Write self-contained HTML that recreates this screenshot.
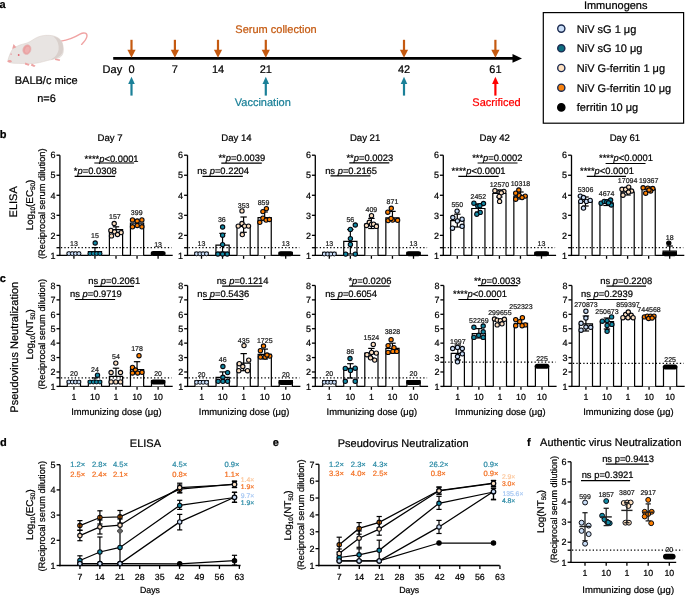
<!DOCTYPE html>
<html><head><meta charset="utf-8"><style>
html,body{margin:0;padding:0;background:#fff;width:685px;height:596px;overflow:hidden;}
svg{display:block;will-change:transform;}
text{font-family:"Liberation Sans", sans-serif;text-rendering:geometricPrecision;}
</style></head><body>
<svg width="685" height="596" viewBox="0 0 685 596" font-family='"Liberation Sans", sans-serif'>
<rect width="685" height="596" fill="#fff"/>
<text x="-0.50" y="8.40" font-size="11" font-weight="bold"  stroke="#000" stroke-width="0.22">a</text>
<g>
<path d="M61,41.2 C68,40.2 75,37.2 80,34.2 C84,32 87.6,33 86.9,36.6 C86.2,39.6 83.6,42.4 81.6,44.4" fill="none" stroke="#f0a3a3" stroke-width="1.35" stroke-linecap="round"/>
<path d="M7.8,60.7 C9,56 10.8,51.5 12.7,49.1 C15,47 19,45 22.6,44.2 C26,43.5 28.5,42.5 31,41 C36,37.5 40,35.7 45,35.4 C51,35 57,36 60.5,40 C63,43 63.8,48 63.2,52 C62.8,55 61,57 58.5,58 C55,59 51,59.5 47.5,60.5 C42,62 37,63.5 32,63.5 C26,63.5 19,63.5 14,63.3 C11,63.1 8.5,62.5 7.8,60.7 Z" fill="#e8e4e2" stroke="#d9ccc6" stroke-width="0.5"/>
<path d="M50.5,59.8 C55.5,58.8 60.5,57 62.5,52.5 C63.8,48 63.2,43.2 60.6,40.2 C58.5,38 56,37 53.5,36.4 C57.5,40 59.2,44.5 58.6,49.5 C58,53.8 55,57.5 50.5,59.8 Z" fill="#d9d0cc"/>
<path d="M25.3,62.4 L29.6,64.2 L28.6,65.7 L24.8,64.4 Z" fill="#eea3a3"/>
<path d="M31.8,63.4 L35.6,65.8 L34.1,67.1 L30.8,65.4 Z" fill="#eea3a3"/>
<path d="M55.2,58.4 L60.2,59.4 L59.6,60.9 L55,60.1 Z" fill="#eea3a3"/>
<ellipse cx="9.6" cy="61.2" rx="2" ry="1.25" fill="#eda2a2"/>
<path d="M12.2,48.9 L13.5,44.1 L16.3,47.2 Z" fill="#eba3a3"/>
<ellipse cx="26.9" cy="49.6" rx="4" ry="5" transform="rotate(20 26.9 49.6)" fill="#eaa2a2" stroke="#e4b9b9" stroke-width="0.6"/>
<ellipse cx="27.3" cy="49.8" rx="2.2" ry="3.2" transform="rotate(20 27.3 49.8)" fill="#eeb0b0"/>
<circle cx="18.7" cy="55" r="0.9" fill="#e2636f"/>
<circle cx="11.1" cy="54.1" r="0.7" fill="#e8808a"/>
</g>
<text x="46.20" y="83.80" font-size="11" text-anchor="middle"  stroke="#000" stroke-width="0.22">BALB/c mice</text>
<text x="46.50" y="102.20" font-size="11" text-anchor="middle"  stroke="#000" stroke-width="0.22">n=6</text>
<line x1="113.20" y1="58.40" x2="514.00" y2="58.40" stroke="#000" stroke-width="2.9"/>
<path d="M512.5,54 L522,58.4 L512.5,62.8 Z" fill="#000" stroke="none" stroke-width="1" />
<line x1="131.50" y1="39.80" x2="131.50" y2="50.50" stroke="#c55a11" stroke-width="2.2"/>
<path d="M127.40,49.8 L135.60,49.8 L131.50,57.8 Z" fill="#c55a11" stroke="none" stroke-width="1" />
<line x1="174.90" y1="39.80" x2="174.90" y2="50.50" stroke="#c55a11" stroke-width="2.2"/>
<path d="M170.80,49.8 L179.00,49.8 L174.90,57.8 Z" fill="#c55a11" stroke="none" stroke-width="1" />
<line x1="218.00" y1="39.80" x2="218.00" y2="50.50" stroke="#c55a11" stroke-width="2.2"/>
<path d="M213.90,49.8 L222.10,49.8 L218.00,57.8 Z" fill="#c55a11" stroke="none" stroke-width="1" />
<line x1="265.80" y1="39.80" x2="265.80" y2="50.50" stroke="#c55a11" stroke-width="2.2"/>
<path d="M261.70,49.8 L269.90,49.8 L265.80,57.8 Z" fill="#c55a11" stroke="none" stroke-width="1" />
<line x1="404.00" y1="39.80" x2="404.00" y2="50.50" stroke="#c55a11" stroke-width="2.2"/>
<path d="M399.90,49.8 L408.10,49.8 L404.00,57.8 Z" fill="#c55a11" stroke="none" stroke-width="1" />
<line x1="495.40" y1="39.80" x2="495.40" y2="50.50" stroke="#c55a11" stroke-width="2.2"/>
<path d="M491.30,49.8 L499.50,49.8 L495.40,57.8 Z" fill="#c55a11" stroke="none" stroke-width="1" />
<path d="M128.20,84 L134.80,84 L131.50,76.8 Z" fill="#1b8098" stroke="none" stroke-width="1" />
<line x1="131.50" y1="83.50" x2="131.50" y2="95.60" stroke="#1b8098" stroke-width="2.2"/>
<path d="M262.50,84 L269.10,84 L265.80,76.8 Z" fill="#1b8098" stroke="none" stroke-width="1" />
<line x1="265.80" y1="83.50" x2="265.80" y2="95.60" stroke="#1b8098" stroke-width="2.2"/>
<path d="M400.70,84 L407.30,84 L404.00,76.8 Z" fill="#1b8098" stroke="none" stroke-width="1" />
<line x1="404.00" y1="83.50" x2="404.00" y2="95.60" stroke="#1b8098" stroke-width="2.2"/>
<path d="M492.10,84 L498.70,84 L495.40,76.8 Z" fill="#fe0000" stroke="none" stroke-width="1" />
<line x1="495.40" y1="83.50" x2="495.40" y2="95.60" stroke="#fe0000" stroke-width="2.2"/>
<text x="102.60" y="72.50" font-size="11"  stroke="#000" stroke-width="0.22">Day</text>
<text x="131.50" y="72.80" font-size="11" text-anchor="middle"  stroke="#000" stroke-width="0.22">0</text>
<text x="174.90" y="72.80" font-size="11" text-anchor="middle"  stroke="#000" stroke-width="0.22">7</text>
<text x="218.00" y="72.80" font-size="11" text-anchor="middle"  stroke="#000" stroke-width="0.22">14</text>
<text x="265.80" y="72.80" font-size="11" text-anchor="middle"  stroke="#000" stroke-width="0.22">21</text>
<text x="404.00" y="72.80" font-size="11" text-anchor="middle"  stroke="#000" stroke-width="0.22">42</text>
<text x="495.40" y="72.80" font-size="11" text-anchor="middle"  stroke="#000" stroke-width="0.22">61</text>
<text x="276.00" y="32.80" font-size="11" text-anchor="middle" fill="#c55a11"  stroke="#c55a11" stroke-width="0.22">Serum collection</text>
<text x="262.80" y="105.80" font-size="11" text-anchor="middle" fill="#1b8098"  stroke="#1b8098" stroke-width="0.22">Vaccination</text>
<text x="496.50" y="105.60" font-size="11" text-anchor="middle" fill="#fe0000"  stroke="#fe0000" stroke-width="0.22">Sacrificed</text>
<text x="615.70" y="8.60" font-size="11" text-anchor="middle"  stroke="#000" stroke-width="0.22">Immunogens</text>
<rect x="543.3" y="12.6" width="140.3" height="110.6" fill="none" stroke="#000" stroke-width="1.2"/>
<circle cx="561.30" cy="28.60" r="3.6" fill="#c9ddf6" stroke="#1b2a50" stroke-width="1.4"/>
<text x="576.80" y="32.50" font-size="11"  stroke="#000" stroke-width="0.22">NiV sG 1 μg</text>
<circle cx="561.30" cy="48.30" r="3.6" fill="#0f6e80" stroke="#1b2a50" stroke-width="1.4"/>
<text x="576.80" y="52.20" font-size="11"  stroke="#000" stroke-width="0.22">NiV sG 10 μg</text>
<circle cx="561.30" cy="68.00" r="3.6" fill="#fde0c0" stroke="#1b2a50" stroke-width="1.4"/>
<text x="576.80" y="71.90" font-size="11"  stroke="#000" stroke-width="0.22">NiV G-ferritin 1 μg</text>
<circle cx="561.30" cy="87.70" r="3.6" fill="#f7820f" stroke="#1b2a50" stroke-width="1.4"/>
<text x="576.80" y="91.60" font-size="11"  stroke="#000" stroke-width="0.22">NiV G-ferritin 10 μg</text>
<circle cx="561.30" cy="107.40" r="3.6" fill="#000" stroke="#000" stroke-width="1.4"/>
<text x="576.80" y="111.30" font-size="11"  stroke="#000" stroke-width="0.22">ferritin 10 μg</text>
<text x="-0.30" y="138.20" font-size="11" font-weight="bold"  stroke="#000" stroke-width="0.22">b</text>
<text x="16.80" y="201.80" font-size="11" text-anchor="middle" transform="rotate(-90 16.80 201.80)"  stroke="#000" stroke-width="0.22">ELISA</text>
<text x="32.6" y="205" font-size="9.8" text-anchor="middle" transform="rotate(-90 32.6 205)" stroke="#000" stroke-width="0.22">Log<tspan font-size="6.4" dy="2.2">10</tspan><tspan dy="-2.2">(EC</tspan><tspan font-size="6.4" dy="2.2">50</tspan><tspan dy="-2.2">)</tspan></text>
<text x="45.00" y="203.70" font-size="9.3" text-anchor="middle" transform="rotate(-90 45.00 203.70)"  stroke="#000" stroke-width="0.22">(Reciprocal serum dilution)</text>
<text x="110.00" y="140.80" font-size="9.6" text-anchor="middle"  stroke="#000" stroke-width="0.22">Day 7</text>
<text x="236.50" y="140.80" font-size="9.6" text-anchor="middle"  stroke="#000" stroke-width="0.22">Day 14</text>
<text x="365.10" y="140.80" font-size="9.6" text-anchor="middle"  stroke="#000" stroke-width="0.22">Day 21</text>
<text x="494.70" y="140.80" font-size="9.6" text-anchor="middle"  stroke="#000" stroke-width="0.22">Day 42</text>
<text x="624.90" y="140.80" font-size="9.6" text-anchor="middle"  stroke="#000" stroke-width="0.22">Day 61</text>
<line x1="59.90" y1="155.20" x2="59.90" y2="256.05" stroke="#000" stroke-width="1.3"/>
<line x1="59.25" y1="255.40" x2="172.70" y2="255.40" stroke="#000" stroke-width="1.3"/>
<line x1="56.50" y1="255.40" x2="59.90" y2="255.40" stroke="#000" stroke-width="1.3"/>
<line x1="56.50" y1="235.36" x2="59.90" y2="235.36" stroke="#000" stroke-width="1.3"/>
<line x1="56.50" y1="215.32" x2="59.90" y2="215.32" stroke="#000" stroke-width="1.3"/>
<line x1="56.50" y1="195.28" x2="59.90" y2="195.28" stroke="#000" stroke-width="1.3"/>
<line x1="56.50" y1="175.24" x2="59.90" y2="175.24" stroke="#000" stroke-width="1.3"/>
<line x1="56.50" y1="155.20" x2="59.90" y2="155.20" stroke="#000" stroke-width="1.3"/>
<line x1="56.50" y1="247.70" x2="59.90" y2="247.70" stroke="#000" stroke-width="1.3"/>
<text x="55.50" y="258.64" font-size="9.0" text-anchor="end"  stroke="#000" stroke-width="0.22">1</text>
<text x="55.50" y="238.60" font-size="9.0" text-anchor="end"  stroke="#000" stroke-width="0.22">2</text>
<text x="55.50" y="218.56" font-size="9.0" text-anchor="end"  stroke="#000" stroke-width="0.22">3</text>
<text x="55.50" y="198.52" font-size="9.0" text-anchor="end"  stroke="#000" stroke-width="0.22">4</text>
<text x="55.50" y="178.48" font-size="9.0" text-anchor="end"  stroke="#000" stroke-width="0.22">5</text>
<text x="55.50" y="158.44" font-size="9.0" text-anchor="end"  stroke="#000" stroke-width="0.22">6</text>
<line x1="73.90" y1="255.40" x2="73.90" y2="258.80" stroke="#000" stroke-width="1.3"/>
<line x1="94.95" y1="255.40" x2="94.95" y2="258.80" stroke="#000" stroke-width="1.3"/>
<line x1="116.00" y1="255.40" x2="116.00" y2="258.80" stroke="#000" stroke-width="1.3"/>
<line x1="137.05" y1="255.40" x2="137.05" y2="258.80" stroke="#000" stroke-width="1.3"/>
<line x1="158.10" y1="255.40" x2="158.10" y2="258.80" stroke="#000" stroke-width="1.3"/>
<path d="M67.30,255.40 L67.30,252.30 L80.50,252.30 L80.50,255.40" fill="#fff" stroke="#000" stroke-width="1.2"/>
<path d="M88.35,255.40 L88.35,251.50 L101.55,251.50 L101.55,255.40" fill="#fff" stroke="#000" stroke-width="1.2"/>
<path d="M109.40,255.40 L109.40,229.60 L122.60,229.60 L122.60,255.40" fill="#fff" stroke="#000" stroke-width="1.2"/>
<path d="M130.45,255.40 L130.45,223.20 L143.65,223.20 L143.65,255.40" fill="#fff" stroke="#000" stroke-width="1.2"/>
<path d="M151.50,255.40 L151.50,252.30 L164.70,252.30 L164.70,255.40" fill="#fff" stroke="#000" stroke-width="1.2"/>
<line x1="60.90" y1="247.70" x2="171.70" y2="247.70" stroke="#000" stroke-width="1.3" stroke-dasharray="1.3 2.15"/>
<circle cx="68.90" cy="253.60" r="1.95" fill="#c9ddf6" stroke="#050810" stroke-width="0.95"/>
<circle cx="72.30" cy="253.60" r="1.95" fill="#c9ddf6" stroke="#050810" stroke-width="0.95"/>
<circle cx="75.50" cy="253.60" r="1.95" fill="#c9ddf6" stroke="#050810" stroke-width="0.95"/>
<circle cx="78.90" cy="253.60" r="1.95" fill="#c9ddf6" stroke="#050810" stroke-width="0.95"/>
<text x="73.90" y="246.40" font-size="7.0" text-anchor="middle" fill="#222"  stroke="#222" stroke-width="0.22">13</text>
<line x1="94.95" y1="251.50" x2="94.95" y2="247.60" stroke="#000" stroke-width="1.2"/>
<line x1="91.75" y1="247.60" x2="98.15" y2="247.60" stroke="#000" stroke-width="1.2"/>
<circle cx="95.20" cy="243.00" r="2.15" fill="#128aa4" stroke="#050810" stroke-width="1.1"/>
<circle cx="89.95" cy="253.60" r="1.95" fill="#128aa4" stroke="#050810" stroke-width="0.95"/>
<circle cx="93.35" cy="253.60" r="1.95" fill="#128aa4" stroke="#050810" stroke-width="0.95"/>
<circle cx="96.55" cy="253.60" r="1.95" fill="#128aa4" stroke="#050810" stroke-width="0.95"/>
<circle cx="99.95" cy="253.60" r="1.95" fill="#128aa4" stroke="#050810" stroke-width="0.95"/>
<text x="94.95" y="237.50" font-size="7.0" text-anchor="middle" fill="#222"  stroke="#222" stroke-width="0.22">15</text>
<line x1="116.00" y1="229.60" x2="116.00" y2="226.80" stroke="#000" stroke-width="1.2"/>
<line x1="112.80" y1="226.80" x2="119.20" y2="226.80" stroke="#000" stroke-width="1.2"/>
<line x1="116.00" y1="229.60" x2="116.00" y2="232.50" stroke="#000" stroke-width="1.2"/>
<line x1="112.80" y1="232.50" x2="119.20" y2="232.50" stroke="#000" stroke-width="1.2"/>
<circle cx="114.20" cy="223.50" r="2.15" fill="#fde0c0" stroke="#050810" stroke-width="1.1"/>
<circle cx="110.90" cy="230.40" r="2.15" fill="#fde0c0" stroke="#050810" stroke-width="1.1"/>
<circle cx="114.60" cy="231.80" r="2.15" fill="#fde0c0" stroke="#050810" stroke-width="1.1"/>
<circle cx="121.10" cy="232.60" r="2.15" fill="#fde0c0" stroke="#050810" stroke-width="1.1"/>
<circle cx="117.50" cy="234.50" r="2.15" fill="#fde0c0" stroke="#050810" stroke-width="1.1"/>
<circle cx="111.50" cy="235.90" r="2.15" fill="#fde0c0" stroke="#050810" stroke-width="1.1"/>
<text x="114.90" y="218.80" font-size="7.0" text-anchor="middle" fill="#222"  stroke="#222" stroke-width="0.22">157</text>
<circle cx="132.50" cy="219.90" r="2.15" fill="#ff8000" stroke="#050810" stroke-width="1.1"/>
<circle cx="137.20" cy="221.00" r="2.15" fill="#ff8000" stroke="#050810" stroke-width="1.1"/>
<circle cx="141.90" cy="219.90" r="2.15" fill="#ff8000" stroke="#050810" stroke-width="1.1"/>
<circle cx="132.50" cy="226.80" r="2.15" fill="#ff8000" stroke="#050810" stroke-width="1.1"/>
<circle cx="137.20" cy="225.50" r="2.15" fill="#ff8000" stroke="#050810" stroke-width="1.1"/>
<circle cx="141.90" cy="226.80" r="2.15" fill="#ff8000" stroke="#050810" stroke-width="1.1"/>
<text x="136.70" y="214.80" font-size="7.0" text-anchor="middle" fill="#222"  stroke="#222" stroke-width="0.22">399</text>
<rect x="150.80" y="251.00" width="14.6" height="5" rx="2.5" fill="#000"/>
<text x="158.10" y="246.50" font-size="7.0" text-anchor="middle" fill="#222"  stroke="#222" stroke-width="0.22">13</text>
<line x1="187.50" y1="155.20" x2="187.50" y2="256.05" stroke="#000" stroke-width="1.3"/>
<line x1="186.85" y1="255.40" x2="300.30" y2="255.40" stroke="#000" stroke-width="1.3"/>
<line x1="184.10" y1="255.40" x2="187.50" y2="255.40" stroke="#000" stroke-width="1.3"/>
<line x1="184.10" y1="235.36" x2="187.50" y2="235.36" stroke="#000" stroke-width="1.3"/>
<line x1="184.10" y1="215.32" x2="187.50" y2="215.32" stroke="#000" stroke-width="1.3"/>
<line x1="184.10" y1="195.28" x2="187.50" y2="195.28" stroke="#000" stroke-width="1.3"/>
<line x1="184.10" y1="175.24" x2="187.50" y2="175.24" stroke="#000" stroke-width="1.3"/>
<line x1="184.10" y1="155.20" x2="187.50" y2="155.20" stroke="#000" stroke-width="1.3"/>
<line x1="184.10" y1="247.70" x2="187.50" y2="247.70" stroke="#000" stroke-width="1.3"/>
<text x="183.10" y="258.64" font-size="9.0" text-anchor="end"  stroke="#000" stroke-width="0.22">1</text>
<text x="183.10" y="238.60" font-size="9.0" text-anchor="end"  stroke="#000" stroke-width="0.22">2</text>
<text x="183.10" y="218.56" font-size="9.0" text-anchor="end"  stroke="#000" stroke-width="0.22">3</text>
<text x="183.10" y="198.52" font-size="9.0" text-anchor="end"  stroke="#000" stroke-width="0.22">4</text>
<text x="183.10" y="178.48" font-size="9.0" text-anchor="end"  stroke="#000" stroke-width="0.22">5</text>
<text x="183.10" y="158.44" font-size="9.0" text-anchor="end"  stroke="#000" stroke-width="0.22">6</text>
<line x1="201.50" y1="255.40" x2="201.50" y2="258.80" stroke="#000" stroke-width="1.3"/>
<line x1="222.55" y1="255.40" x2="222.55" y2="258.80" stroke="#000" stroke-width="1.3"/>
<line x1="243.60" y1="255.40" x2="243.60" y2="258.80" stroke="#000" stroke-width="1.3"/>
<line x1="264.65" y1="255.40" x2="264.65" y2="258.80" stroke="#000" stroke-width="1.3"/>
<line x1="285.70" y1="255.40" x2="285.70" y2="258.80" stroke="#000" stroke-width="1.3"/>
<path d="M194.90,255.40 L194.90,252.30 L208.10,252.30 L208.10,255.40" fill="#fff" stroke="#000" stroke-width="1.2"/>
<path d="M215.95,255.40 L215.95,245.20 L229.15,245.20 L229.15,255.40" fill="#fff" stroke="#000" stroke-width="1.2"/>
<path d="M237.00,255.40 L237.00,226.40 L250.20,226.40 L250.20,255.40" fill="#fff" stroke="#000" stroke-width="1.2"/>
<path d="M258.05,255.40 L258.05,217.60 L271.25,217.60 L271.25,255.40" fill="#fff" stroke="#000" stroke-width="1.2"/>
<path d="M279.10,255.40 L279.10,252.30 L292.30,252.30 L292.30,255.40" fill="#fff" stroke="#000" stroke-width="1.2"/>
<line x1="188.50" y1="247.70" x2="299.30" y2="247.70" stroke="#000" stroke-width="1.3" stroke-dasharray="1.3 2.15"/>
<circle cx="196.50" cy="253.80" r="1.95" fill="#c9ddf6" stroke="#050810" stroke-width="0.95"/>
<circle cx="199.90" cy="253.80" r="1.95" fill="#c9ddf6" stroke="#050810" stroke-width="0.95"/>
<circle cx="203.10" cy="253.80" r="1.95" fill="#c9ddf6" stroke="#050810" stroke-width="0.95"/>
<circle cx="206.50" cy="253.80" r="1.95" fill="#c9ddf6" stroke="#050810" stroke-width="0.95"/>
<text x="201.50" y="246.40" font-size="7.0" text-anchor="middle" fill="#222"  stroke="#222" stroke-width="0.22">13</text>
<line x1="222.55" y1="245.20" x2="222.55" y2="233.40" stroke="#000" stroke-width="1.2"/>
<line x1="219.35" y1="233.40" x2="225.75" y2="233.40" stroke="#000" stroke-width="1.2"/>
<line x1="222.55" y1="245.20" x2="222.55" y2="252.00" stroke="#000" stroke-width="1.2"/>
<line x1="219.35" y1="252.00" x2="225.75" y2="252.00" stroke="#000" stroke-width="1.2"/>
<circle cx="222.60" cy="227.00" r="2.15" fill="#128aa4" stroke="#050810" stroke-width="1.1"/>
<circle cx="222.60" cy="235.20" r="2.15" fill="#128aa4" stroke="#050810" stroke-width="1.1"/>
<circle cx="222.60" cy="244.60" r="2.15" fill="#128aa4" stroke="#050810" stroke-width="1.1"/>
<circle cx="217.90" cy="254.00" r="2.15" fill="#128aa4" stroke="#050810" stroke-width="1.1"/>
<circle cx="222.60" cy="254.00" r="2.15" fill="#128aa4" stroke="#050810" stroke-width="1.1"/>
<circle cx="227.20" cy="254.00" r="2.15" fill="#128aa4" stroke="#050810" stroke-width="1.1"/>
<text x="221.80" y="222.30" font-size="7.0" text-anchor="middle" fill="#222"  stroke="#222" stroke-width="0.22">36</text>
<line x1="243.60" y1="226.40" x2="243.60" y2="217.00" stroke="#000" stroke-width="1.2"/>
<line x1="240.40" y1="217.00" x2="246.80" y2="217.00" stroke="#000" stroke-width="1.2"/>
<line x1="243.60" y1="226.40" x2="243.60" y2="232.30" stroke="#000" stroke-width="1.2"/>
<line x1="240.40" y1="232.30" x2="246.80" y2="232.30" stroke="#000" stroke-width="1.2"/>
<circle cx="242.00" cy="210.90" r="2.15" fill="#fde0c0" stroke="#050810" stroke-width="1.1"/>
<circle cx="242.00" cy="223.50" r="2.15" fill="#fde0c0" stroke="#050810" stroke-width="1.1"/>
<circle cx="238.20" cy="226.10" r="2.15" fill="#fde0c0" stroke="#050810" stroke-width="1.1"/>
<circle cx="244.60" cy="226.10" r="2.15" fill="#fde0c0" stroke="#050810" stroke-width="1.1"/>
<circle cx="248.50" cy="226.10" r="2.15" fill="#fde0c0" stroke="#050810" stroke-width="1.1"/>
<circle cx="242.30" cy="234.60" r="2.15" fill="#fde0c0" stroke="#050810" stroke-width="1.1"/>
<text x="243.60" y="207.60" font-size="7.0" text-anchor="middle" fill="#222"  stroke="#222" stroke-width="0.22">353</text>
<line x1="264.65" y1="217.60" x2="264.65" y2="212.00" stroke="#000" stroke-width="1.2"/>
<line x1="261.45" y1="212.00" x2="267.85" y2="212.00" stroke="#000" stroke-width="1.2"/>
<circle cx="266.40" cy="208.60" r="2.15" fill="#ff8000" stroke="#050810" stroke-width="1.1"/>
<circle cx="262.90" cy="211.60" r="2.15" fill="#ff8000" stroke="#050810" stroke-width="1.1"/>
<circle cx="262.90" cy="218.20" r="2.15" fill="#ff8000" stroke="#050810" stroke-width="1.1"/>
<circle cx="266.10" cy="220.10" r="2.15" fill="#ff8000" stroke="#050810" stroke-width="1.1"/>
<circle cx="269.40" cy="219.50" r="2.15" fill="#ff8000" stroke="#050810" stroke-width="1.1"/>
<circle cx="259.80" cy="222.30" r="2.15" fill="#ff8000" stroke="#050810" stroke-width="1.1"/>
<text x="263.50" y="205.40" font-size="7.0" text-anchor="middle" fill="#222"  stroke="#222" stroke-width="0.22">859</text>
<rect x="278.40" y="251.30" width="14.6" height="5" rx="2.5" fill="#000"/>
<text x="285.70" y="246.30" font-size="7.0" text-anchor="middle" fill="#222"  stroke="#222" stroke-width="0.22">13</text>
<line x1="315.30" y1="155.20" x2="315.30" y2="256.05" stroke="#000" stroke-width="1.3"/>
<line x1="314.65" y1="255.40" x2="428.10" y2="255.40" stroke="#000" stroke-width="1.3"/>
<line x1="311.90" y1="255.40" x2="315.30" y2="255.40" stroke="#000" stroke-width="1.3"/>
<line x1="311.90" y1="235.36" x2="315.30" y2="235.36" stroke="#000" stroke-width="1.3"/>
<line x1="311.90" y1="215.32" x2="315.30" y2="215.32" stroke="#000" stroke-width="1.3"/>
<line x1="311.90" y1="195.28" x2="315.30" y2="195.28" stroke="#000" stroke-width="1.3"/>
<line x1="311.90" y1="175.24" x2="315.30" y2="175.24" stroke="#000" stroke-width="1.3"/>
<line x1="311.90" y1="155.20" x2="315.30" y2="155.20" stroke="#000" stroke-width="1.3"/>
<line x1="311.90" y1="247.70" x2="315.30" y2="247.70" stroke="#000" stroke-width="1.3"/>
<text x="310.90" y="258.64" font-size="9.0" text-anchor="end"  stroke="#000" stroke-width="0.22">1</text>
<text x="310.90" y="238.60" font-size="9.0" text-anchor="end"  stroke="#000" stroke-width="0.22">2</text>
<text x="310.90" y="218.56" font-size="9.0" text-anchor="end"  stroke="#000" stroke-width="0.22">3</text>
<text x="310.90" y="198.52" font-size="9.0" text-anchor="end"  stroke="#000" stroke-width="0.22">4</text>
<text x="310.90" y="178.48" font-size="9.0" text-anchor="end"  stroke="#000" stroke-width="0.22">5</text>
<text x="310.90" y="158.44" font-size="9.0" text-anchor="end"  stroke="#000" stroke-width="0.22">6</text>
<line x1="329.30" y1="255.40" x2="329.30" y2="258.80" stroke="#000" stroke-width="1.3"/>
<line x1="350.35" y1="255.40" x2="350.35" y2="258.80" stroke="#000" stroke-width="1.3"/>
<line x1="371.40" y1="255.40" x2="371.40" y2="258.80" stroke="#000" stroke-width="1.3"/>
<line x1="392.45" y1="255.40" x2="392.45" y2="258.80" stroke="#000" stroke-width="1.3"/>
<line x1="413.50" y1="255.40" x2="413.50" y2="258.80" stroke="#000" stroke-width="1.3"/>
<path d="M322.70,255.40 L322.70,252.30 L335.90,252.30 L335.90,255.40" fill="#fff" stroke="#000" stroke-width="1.2"/>
<path d="M343.75,255.40 L343.75,241.40 L356.95,241.40 L356.95,255.40" fill="#fff" stroke="#000" stroke-width="1.2"/>
<path d="M364.80,255.40 L364.80,224.20 L378.00,224.20 L378.00,255.40" fill="#fff" stroke="#000" stroke-width="1.2"/>
<path d="M385.85,255.40 L385.85,217.90 L399.05,217.90 L399.05,255.40" fill="#fff" stroke="#000" stroke-width="1.2"/>
<path d="M406.90,255.40 L406.90,252.30 L420.10,252.30 L420.10,255.40" fill="#fff" stroke="#000" stroke-width="1.2"/>
<line x1="316.30" y1="247.70" x2="427.10" y2="247.70" stroke="#000" stroke-width="1.3" stroke-dasharray="1.3 2.15"/>
<circle cx="324.30" cy="254.00" r="1.95" fill="#c9ddf6" stroke="#050810" stroke-width="0.95"/>
<circle cx="327.70" cy="254.00" r="1.95" fill="#c9ddf6" stroke="#050810" stroke-width="0.95"/>
<circle cx="330.90" cy="254.00" r="1.95" fill="#c9ddf6" stroke="#050810" stroke-width="0.95"/>
<circle cx="334.30" cy="254.00" r="1.95" fill="#c9ddf6" stroke="#050810" stroke-width="0.95"/>
<text x="329.30" y="246.30" font-size="7.0" text-anchor="middle" fill="#222"  stroke="#222" stroke-width="0.22">13</text>
<line x1="350.35" y1="241.40" x2="350.35" y2="229.50" stroke="#000" stroke-width="1.2"/>
<line x1="347.15" y1="229.50" x2="353.55" y2="229.50" stroke="#000" stroke-width="1.2"/>
<line x1="350.35" y1="241.40" x2="350.35" y2="254.00" stroke="#000" stroke-width="1.2"/>
<line x1="347.15" y1="254.00" x2="353.55" y2="254.00" stroke="#000" stroke-width="1.2"/>
<circle cx="355.30" cy="225.00" r="2.15" fill="#128aa4" stroke="#050810" stroke-width="1.1"/>
<circle cx="350.40" cy="229.40" r="2.15" fill="#128aa4" stroke="#050810" stroke-width="1.1"/>
<circle cx="350.40" cy="238.60" r="2.15" fill="#128aa4" stroke="#050810" stroke-width="1.1"/>
<circle cx="350.40" cy="244.40" r="2.15" fill="#128aa4" stroke="#050810" stroke-width="1.1"/>
<circle cx="345.70" cy="254.10" r="2.15" fill="#128aa4" stroke="#050810" stroke-width="1.1"/>
<circle cx="355.30" cy="254.10" r="2.15" fill="#128aa4" stroke="#050810" stroke-width="1.1"/>
<text x="350.35" y="222.00" font-size="7.0" text-anchor="middle" fill="#222"  stroke="#222" stroke-width="0.22">56</text>
<line x1="371.40" y1="224.20" x2="371.40" y2="218.40" stroke="#000" stroke-width="1.2"/>
<line x1="368.20" y1="218.40" x2="374.60" y2="218.40" stroke="#000" stroke-width="1.2"/>
<line x1="371.40" y1="224.20" x2="371.40" y2="228.50" stroke="#000" stroke-width="1.2"/>
<line x1="368.20" y1="228.50" x2="374.60" y2="228.50" stroke="#000" stroke-width="1.2"/>
<circle cx="371.50" cy="215.70" r="2.15" fill="#fde0c0" stroke="#050810" stroke-width="1.1"/>
<circle cx="369.30" cy="222.30" r="2.15" fill="#fde0c0" stroke="#050810" stroke-width="1.1"/>
<circle cx="366.50" cy="225.50" r="2.15" fill="#fde0c0" stroke="#050810" stroke-width="1.1"/>
<circle cx="371.50" cy="224.40" r="2.15" fill="#fde0c0" stroke="#050810" stroke-width="1.1"/>
<circle cx="373.60" cy="224.20" r="2.15" fill="#fde0c0" stroke="#050810" stroke-width="1.1"/>
<circle cx="376.40" cy="226.40" r="2.15" fill="#fde0c0" stroke="#050810" stroke-width="1.1"/>
<text x="371.40" y="211.60" font-size="7.0" text-anchor="middle" fill="#222"  stroke="#222" stroke-width="0.22">409</text>
<line x1="392.45" y1="217.90" x2="392.45" y2="211.40" stroke="#000" stroke-width="1.2"/>
<line x1="389.25" y1="211.40" x2="395.65" y2="211.40" stroke="#000" stroke-width="1.2"/>
<circle cx="391.30" cy="208.30" r="2.15" fill="#ff8000" stroke="#050810" stroke-width="1.1"/>
<circle cx="387.80" cy="212.20" r="2.15" fill="#ff8000" stroke="#050810" stroke-width="1.1"/>
<circle cx="388.10" cy="220.60" r="2.15" fill="#ff8000" stroke="#050810" stroke-width="1.1"/>
<circle cx="392.70" cy="220.10" r="2.15" fill="#ff8000" stroke="#050810" stroke-width="1.1"/>
<circle cx="397.60" cy="220.30" r="2.15" fill="#ff8000" stroke="#050810" stroke-width="1.1"/>
<circle cx="391.10" cy="218.40" r="2.15" fill="#ff8000" stroke="#050810" stroke-width="1.1"/>
<text x="392.45" y="203.50" font-size="7.0" text-anchor="middle" fill="#222"  stroke="#222" stroke-width="0.22">871</text>
<rect x="406.20" y="251.30" width="14.6" height="5" rx="2.5" fill="#000"/>
<text x="413.50" y="246.30" font-size="7.0" text-anchor="middle" fill="#222"  stroke="#222" stroke-width="0.22">13</text>
<line x1="443.30" y1="155.20" x2="443.30" y2="256.05" stroke="#000" stroke-width="1.3"/>
<line x1="442.65" y1="255.40" x2="556.10" y2="255.40" stroke="#000" stroke-width="1.3"/>
<line x1="439.90" y1="255.40" x2="443.30" y2="255.40" stroke="#000" stroke-width="1.3"/>
<line x1="439.90" y1="235.36" x2="443.30" y2="235.36" stroke="#000" stroke-width="1.3"/>
<line x1="439.90" y1="215.32" x2="443.30" y2="215.32" stroke="#000" stroke-width="1.3"/>
<line x1="439.90" y1="195.28" x2="443.30" y2="195.28" stroke="#000" stroke-width="1.3"/>
<line x1="439.90" y1="175.24" x2="443.30" y2="175.24" stroke="#000" stroke-width="1.3"/>
<line x1="439.90" y1="155.20" x2="443.30" y2="155.20" stroke="#000" stroke-width="1.3"/>
<line x1="439.90" y1="247.70" x2="443.30" y2="247.70" stroke="#000" stroke-width="1.3"/>
<text x="438.90" y="258.64" font-size="9.0" text-anchor="end"  stroke="#000" stroke-width="0.22">1</text>
<text x="438.90" y="238.60" font-size="9.0" text-anchor="end"  stroke="#000" stroke-width="0.22">2</text>
<text x="438.90" y="218.56" font-size="9.0" text-anchor="end"  stroke="#000" stroke-width="0.22">3</text>
<text x="438.90" y="198.52" font-size="9.0" text-anchor="end"  stroke="#000" stroke-width="0.22">4</text>
<text x="438.90" y="178.48" font-size="9.0" text-anchor="end"  stroke="#000" stroke-width="0.22">5</text>
<text x="438.90" y="158.44" font-size="9.0" text-anchor="end"  stroke="#000" stroke-width="0.22">6</text>
<line x1="457.30" y1="255.40" x2="457.30" y2="258.80" stroke="#000" stroke-width="1.3"/>
<line x1="478.35" y1="255.40" x2="478.35" y2="258.80" stroke="#000" stroke-width="1.3"/>
<line x1="499.40" y1="255.40" x2="499.40" y2="258.80" stroke="#000" stroke-width="1.3"/>
<line x1="520.45" y1="255.40" x2="520.45" y2="258.80" stroke="#000" stroke-width="1.3"/>
<line x1="541.50" y1="255.40" x2="541.50" y2="258.80" stroke="#000" stroke-width="1.3"/>
<path d="M450.70,255.40 L450.70,220.60 L463.90,220.60 L463.90,255.40" fill="#fff" stroke="#000" stroke-width="1.2"/>
<path d="M471.75,255.40 L471.75,208.50 L484.95,208.50 L484.95,255.40" fill="#fff" stroke="#000" stroke-width="1.2"/>
<path d="M492.80,255.40 L492.80,193.50 L506.00,193.50 L506.00,255.40" fill="#fff" stroke="#000" stroke-width="1.2"/>
<path d="M513.85,255.40 L513.85,196.10 L527.05,196.10 L527.05,255.40" fill="#fff" stroke="#000" stroke-width="1.2"/>
<path d="M534.90,255.40 L534.90,252.30 L548.10,252.30 L548.10,255.40" fill="#fff" stroke="#000" stroke-width="1.2"/>
<line x1="444.30" y1="247.70" x2="555.10" y2="247.70" stroke="#000" stroke-width="1.3" stroke-dasharray="1.3 2.15"/>
<line x1="457.30" y1="220.60" x2="457.30" y2="214.20" stroke="#000" stroke-width="1.2"/>
<line x1="454.10" y1="214.20" x2="460.50" y2="214.20" stroke="#000" stroke-width="1.2"/>
<line x1="457.30" y1="220.60" x2="457.30" y2="227.00" stroke="#000" stroke-width="1.2"/>
<line x1="454.10" y1="227.00" x2="460.50" y2="227.00" stroke="#000" stroke-width="1.2"/>
<circle cx="457.10" cy="211.10" r="2.15" fill="#c9ddf6" stroke="#050810" stroke-width="1.1"/>
<circle cx="452.80" cy="217.50" r="2.15" fill="#c9ddf6" stroke="#050810" stroke-width="1.1"/>
<circle cx="462.10" cy="219.20" r="2.15" fill="#c9ddf6" stroke="#050810" stroke-width="1.1"/>
<circle cx="457.40" cy="220.90" r="2.15" fill="#c9ddf6" stroke="#050810" stroke-width="1.1"/>
<circle cx="452.50" cy="228.20" r="2.15" fill="#c9ddf6" stroke="#050810" stroke-width="1.1"/>
<circle cx="462.10" cy="226.30" r="2.15" fill="#c9ddf6" stroke="#050810" stroke-width="1.1"/>
<text x="457.30" y="206.70" font-size="7.0" text-anchor="middle" fill="#222"  stroke="#222" stroke-width="0.22">550</text>
<line x1="478.35" y1="208.50" x2="478.35" y2="204.00" stroke="#000" stroke-width="1.2"/>
<line x1="475.15" y1="204.00" x2="481.55" y2="204.00" stroke="#000" stroke-width="1.2"/>
<line x1="478.35" y1="208.50" x2="478.35" y2="212.00" stroke="#000" stroke-width="1.2"/>
<line x1="475.15" y1="212.00" x2="481.55" y2="212.00" stroke="#000" stroke-width="1.2"/>
<circle cx="473.90" cy="203.20" r="2.15" fill="#128aa4" stroke="#050810" stroke-width="1.1"/>
<circle cx="477.80" cy="206.10" r="2.15" fill="#128aa4" stroke="#050810" stroke-width="1.1"/>
<circle cx="483.50" cy="203.50" r="2.15" fill="#128aa4" stroke="#050810" stroke-width="1.1"/>
<circle cx="479.90" cy="205.70" r="2.15" fill="#128aa4" stroke="#050810" stroke-width="1.1"/>
<circle cx="480.20" cy="212.40" r="2.15" fill="#128aa4" stroke="#050810" stroke-width="1.1"/>
<circle cx="476.80" cy="214.20" r="2.15" fill="#128aa4" stroke="#050810" stroke-width="1.1"/>
<text x="478.35" y="199.20" font-size="7.0" text-anchor="middle" fill="#222"  stroke="#222" stroke-width="0.22">2452</text>
<line x1="499.40" y1="193.50" x2="499.40" y2="190.00" stroke="#000" stroke-width="1.2"/>
<line x1="496.20" y1="190.00" x2="502.60" y2="190.00" stroke="#000" stroke-width="1.2"/>
<line x1="499.40" y1="193.50" x2="499.40" y2="197.00" stroke="#000" stroke-width="1.2"/>
<line x1="496.20" y1="197.00" x2="502.60" y2="197.00" stroke="#000" stroke-width="1.2"/>
<circle cx="494.90" cy="190.70" r="2.15" fill="#fde0c0" stroke="#050810" stroke-width="1.1"/>
<circle cx="499.90" cy="192.10" r="2.15" fill="#fde0c0" stroke="#050810" stroke-width="1.1"/>
<circle cx="503.90" cy="191.40" r="2.15" fill="#fde0c0" stroke="#050810" stroke-width="1.1"/>
<circle cx="501.30" cy="192.80" r="2.15" fill="#fde0c0" stroke="#050810" stroke-width="1.1"/>
<circle cx="499.20" cy="196.40" r="2.15" fill="#fde0c0" stroke="#050810" stroke-width="1.1"/>
<circle cx="499.60" cy="201.40" r="2.15" fill="#fde0c0" stroke="#050810" stroke-width="1.1"/>
<text x="499.40" y="186.70" font-size="7.0" text-anchor="middle" fill="#222"  stroke="#222" stroke-width="0.22">12570</text>
<line x1="520.45" y1="196.10" x2="520.45" y2="192.00" stroke="#000" stroke-width="1.2"/>
<line x1="517.25" y1="192.00" x2="523.65" y2="192.00" stroke="#000" stroke-width="1.2"/>
<line x1="520.45" y1="196.10" x2="520.45" y2="199.00" stroke="#000" stroke-width="1.2"/>
<line x1="517.25" y1="199.00" x2="523.65" y2="199.00" stroke="#000" stroke-width="1.2"/>
<circle cx="518.80" cy="190.00" r="2.15" fill="#ff8000" stroke="#050810" stroke-width="1.1"/>
<circle cx="515.70" cy="193.20" r="2.15" fill="#ff8000" stroke="#050810" stroke-width="1.1"/>
<circle cx="519.30" cy="195.70" r="2.15" fill="#ff8000" stroke="#050810" stroke-width="1.1"/>
<circle cx="525.20" cy="196.10" r="2.15" fill="#ff8000" stroke="#050810" stroke-width="1.1"/>
<circle cx="522.10" cy="197.50" r="2.15" fill="#ff8000" stroke="#050810" stroke-width="1.1"/>
<circle cx="515.70" cy="199.20" r="2.15" fill="#ff8000" stroke="#050810" stroke-width="1.1"/>
<text x="520.45" y="186.10" font-size="7.0" text-anchor="middle" fill="#222"  stroke="#222" stroke-width="0.22">10318</text>
<rect x="534.20" y="251.30" width="14.6" height="5" rx="2.5" fill="#000"/>
<text x="541.50" y="246.00" font-size="7.0" text-anchor="middle" fill="#222"  stroke="#222" stroke-width="0.22">13</text>
<line x1="571.50" y1="155.20" x2="571.50" y2="256.05" stroke="#000" stroke-width="1.3"/>
<line x1="570.85" y1="255.40" x2="684.30" y2="255.40" stroke="#000" stroke-width="1.3"/>
<line x1="568.10" y1="255.40" x2="571.50" y2="255.40" stroke="#000" stroke-width="1.3"/>
<line x1="568.10" y1="235.36" x2="571.50" y2="235.36" stroke="#000" stroke-width="1.3"/>
<line x1="568.10" y1="215.32" x2="571.50" y2="215.32" stroke="#000" stroke-width="1.3"/>
<line x1="568.10" y1="195.28" x2="571.50" y2="195.28" stroke="#000" stroke-width="1.3"/>
<line x1="568.10" y1="175.24" x2="571.50" y2="175.24" stroke="#000" stroke-width="1.3"/>
<line x1="568.10" y1="155.20" x2="571.50" y2="155.20" stroke="#000" stroke-width="1.3"/>
<line x1="568.10" y1="247.70" x2="571.50" y2="247.70" stroke="#000" stroke-width="1.3"/>
<text x="567.10" y="258.64" font-size="9.0" text-anchor="end"  stroke="#000" stroke-width="0.22">1</text>
<text x="567.10" y="238.60" font-size="9.0" text-anchor="end"  stroke="#000" stroke-width="0.22">2</text>
<text x="567.10" y="218.56" font-size="9.0" text-anchor="end"  stroke="#000" stroke-width="0.22">3</text>
<text x="567.10" y="198.52" font-size="9.0" text-anchor="end"  stroke="#000" stroke-width="0.22">4</text>
<text x="567.10" y="178.48" font-size="9.0" text-anchor="end"  stroke="#000" stroke-width="0.22">5</text>
<text x="567.10" y="158.44" font-size="9.0" text-anchor="end"  stroke="#000" stroke-width="0.22">6</text>
<line x1="585.50" y1="255.40" x2="585.50" y2="258.80" stroke="#000" stroke-width="1.3"/>
<line x1="606.55" y1="255.40" x2="606.55" y2="258.80" stroke="#000" stroke-width="1.3"/>
<line x1="627.60" y1="255.40" x2="627.60" y2="258.80" stroke="#000" stroke-width="1.3"/>
<line x1="648.65" y1="255.40" x2="648.65" y2="258.80" stroke="#000" stroke-width="1.3"/>
<line x1="669.70" y1="255.40" x2="669.70" y2="258.80" stroke="#000" stroke-width="1.3"/>
<path d="M578.90,255.40 L578.90,201.40 L592.10,201.40 L592.10,255.40" fill="#fff" stroke="#000" stroke-width="1.2"/>
<path d="M599.95,255.40 L599.95,202.80 L613.15,202.80 L613.15,255.40" fill="#fff" stroke="#000" stroke-width="1.2"/>
<path d="M621.00,255.40 L621.00,192.10 L634.20,192.10 L634.20,255.40" fill="#fff" stroke="#000" stroke-width="1.2"/>
<path d="M642.05,255.40 L642.05,189.20 L655.25,189.20 L655.25,255.40" fill="#fff" stroke="#000" stroke-width="1.2"/>
<path d="M663.10,255.40 L663.10,251.00 L676.30,251.00 L676.30,255.40" fill="#fff" stroke="#000" stroke-width="1.2"/>
<line x1="572.50" y1="247.70" x2="683.30" y2="247.70" stroke="#000" stroke-width="1.3" stroke-dasharray="1.3 2.15"/>
<line x1="585.50" y1="201.40" x2="585.50" y2="197.00" stroke="#000" stroke-width="1.2"/>
<line x1="582.30" y1="197.00" x2="588.70" y2="197.00" stroke="#000" stroke-width="1.2"/>
<line x1="585.50" y1="201.40" x2="585.50" y2="206.00" stroke="#000" stroke-width="1.2"/>
<line x1="582.30" y1="206.00" x2="588.70" y2="206.00" stroke="#000" stroke-width="1.2"/>
<circle cx="580.30" cy="196.10" r="2.15" fill="#c9ddf6" stroke="#050810" stroke-width="1.1"/>
<circle cx="583.50" cy="197.50" r="2.15" fill="#c9ddf6" stroke="#050810" stroke-width="1.1"/>
<circle cx="580.70" cy="201.40" r="2.15" fill="#c9ddf6" stroke="#050810" stroke-width="1.1"/>
<circle cx="586.40" cy="201.40" r="2.15" fill="#c9ddf6" stroke="#050810" stroke-width="1.1"/>
<circle cx="590.20" cy="200.40" r="2.15" fill="#c9ddf6" stroke="#050810" stroke-width="1.1"/>
<circle cx="583.50" cy="208.10" r="2.15" fill="#c9ddf6" stroke="#050810" stroke-width="1.1"/>
<text x="585.50" y="192.40" font-size="7.0" text-anchor="middle" fill="#222"  stroke="#222" stroke-width="0.22">5306</text>
<line x1="606.55" y1="202.80" x2="606.55" y2="200.00" stroke="#000" stroke-width="1.2"/>
<line x1="603.35" y1="200.00" x2="609.75" y2="200.00" stroke="#000" stroke-width="1.2"/>
<line x1="606.55" y1="202.80" x2="606.55" y2="205.50" stroke="#000" stroke-width="1.2"/>
<line x1="603.35" y1="205.50" x2="609.75" y2="205.50" stroke="#000" stroke-width="1.2"/>
<circle cx="601.10" cy="203.20" r="2.15" fill="#128aa4" stroke="#050810" stroke-width="1.1"/>
<circle cx="604.20" cy="201.40" r="2.15" fill="#128aa4" stroke="#050810" stroke-width="1.1"/>
<circle cx="606.80" cy="201.80" r="2.15" fill="#128aa4" stroke="#050810" stroke-width="1.1"/>
<circle cx="610.60" cy="200.00" r="2.15" fill="#128aa4" stroke="#050810" stroke-width="1.1"/>
<circle cx="611.30" cy="205.00" r="2.15" fill="#128aa4" stroke="#050810" stroke-width="1.1"/>
<circle cx="608.50" cy="202.80" r="2.15" fill="#128aa4" stroke="#050810" stroke-width="1.1"/>
<text x="606.55" y="195.70" font-size="7.0" text-anchor="middle" fill="#222"  stroke="#222" stroke-width="0.22">4674</text>
<line x1="627.60" y1="192.10" x2="627.60" y2="189.00" stroke="#000" stroke-width="1.2"/>
<line x1="624.40" y1="189.00" x2="630.80" y2="189.00" stroke="#000" stroke-width="1.2"/>
<line x1="627.60" y1="192.10" x2="627.60" y2="195.00" stroke="#000" stroke-width="1.2"/>
<line x1="624.40" y1="195.00" x2="630.80" y2="195.00" stroke="#000" stroke-width="1.2"/>
<circle cx="622.00" cy="189.30" r="2.15" fill="#fde0c0" stroke="#050810" stroke-width="1.1"/>
<circle cx="625.60" cy="189.30" r="2.15" fill="#fde0c0" stroke="#050810" stroke-width="1.1"/>
<circle cx="628.70" cy="187.10" r="2.15" fill="#fde0c0" stroke="#050810" stroke-width="1.1"/>
<circle cx="631.60" cy="191.00" r="2.15" fill="#fde0c0" stroke="#050810" stroke-width="1.1"/>
<circle cx="628.50" cy="192.10" r="2.15" fill="#fde0c0" stroke="#050810" stroke-width="1.1"/>
<circle cx="623.00" cy="195.20" r="2.15" fill="#fde0c0" stroke="#050810" stroke-width="1.1"/>
<text x="627.60" y="183.30" font-size="7.0" text-anchor="middle" fill="#222"  stroke="#222" stroke-width="0.22">17094</text>
<line x1="648.65" y1="189.20" x2="648.65" y2="187.00" stroke="#000" stroke-width="1.2"/>
<line x1="645.45" y1="187.00" x2="651.85" y2="187.00" stroke="#000" stroke-width="1.2"/>
<line x1="648.65" y1="189.20" x2="648.65" y2="191.50" stroke="#000" stroke-width="1.2"/>
<line x1="645.45" y1="191.50" x2="651.85" y2="191.50" stroke="#000" stroke-width="1.2"/>
<circle cx="643.10" cy="187.80" r="2.15" fill="#ff8000" stroke="#050810" stroke-width="1.1"/>
<circle cx="647.80" cy="188.10" r="2.15" fill="#ff8000" stroke="#050810" stroke-width="1.1"/>
<circle cx="652.80" cy="188.50" r="2.15" fill="#ff8000" stroke="#050810" stroke-width="1.1"/>
<circle cx="650.70" cy="191.00" r="2.15" fill="#ff8000" stroke="#050810" stroke-width="1.1"/>
<circle cx="645.70" cy="193.20" r="2.15" fill="#ff8000" stroke="#050810" stroke-width="1.1"/>
<circle cx="649.00" cy="190.00" r="2.15" fill="#ff8000" stroke="#050810" stroke-width="1.1"/>
<text x="648.65" y="183.30" font-size="7.0" text-anchor="middle" fill="#222"  stroke="#222" stroke-width="0.22">19367</text>
<line x1="669.70" y1="251.00" x2="669.70" y2="246.00" stroke="#000" stroke-width="1.2"/>
<line x1="666.50" y1="246.00" x2="672.90" y2="246.00" stroke="#000" stroke-width="1.2"/>
<circle cx="668.80" cy="243.10" r="2.15" fill="#000" stroke="#000" stroke-width="1.1"/>
<rect x="662.40" y="251.30" width="14.6" height="5" rx="2.5" fill="#000"/>
<text x="669.70" y="239.80" font-size="7.0" text-anchor="middle" fill="#222"  stroke="#222" stroke-width="0.22">18</text>
<line x1="94.30" y1="163.00" x2="134.10" y2="163.00" stroke="#000" stroke-width="1.2"/>
<text x="111.60" y="161.50" font-size="9.4" text-anchor="middle" stroke="#000" stroke-width="0.22">****<tspan font-style="italic">p</tspan>&lt;0.0001</text>
<line x1="74.60" y1="176.30" x2="115.20" y2="176.30" stroke="#000" stroke-width="1.2"/>
<text x="95.30" y="173.90" font-size="9.4" text-anchor="middle" stroke="#000" stroke-width="0.22">*<tspan font-style="italic">p</tspan>=0.0308</text>
<line x1="221.30" y1="163.10" x2="261.80" y2="163.10" stroke="#000" stroke-width="1.2"/>
<text x="241.80" y="161.00" font-size="9.4" text-anchor="middle" stroke="#000" stroke-width="0.22">**<tspan font-style="italic">p</tspan>=0.0039</text>
<line x1="202.40" y1="176.30" x2="242.80" y2="176.30" stroke="#000" stroke-width="1.2"/>
<text x="223.10" y="174.10" font-size="9.4" text-anchor="middle" stroke="#000" stroke-width="0.22">ns <tspan font-style="italic">p</tspan>=0.2204</text>
<line x1="349.30" y1="162.80" x2="389.30" y2="162.80" stroke="#000" stroke-width="1.2"/>
<text x="369.80" y="160.80" font-size="9.4" text-anchor="middle" stroke="#000" stroke-width="0.22">**<tspan font-style="italic">p</tspan>=0.0023</text>
<line x1="330.50" y1="175.90" x2="370.50" y2="175.90" stroke="#000" stroke-width="1.2"/>
<text x="351.10" y="174.10" font-size="9.4" text-anchor="middle" stroke="#000" stroke-width="0.22">ns <tspan font-style="italic">p</tspan>=0.2165</text>
<line x1="477.60" y1="163.00" x2="517.50" y2="163.00" stroke="#000" stroke-width="1.2"/>
<text x="497.30" y="161.00" font-size="9.4" text-anchor="middle" stroke="#000" stroke-width="0.22">***<tspan font-style="italic">p</tspan>=0.0002</text>
<line x1="458.30" y1="176.40" x2="498.70" y2="176.40" stroke="#000" stroke-width="1.2"/>
<text x="478.60" y="174.30" font-size="9.4" text-anchor="middle" stroke="#000" stroke-width="0.22">****<tspan font-style="italic">p</tspan>&lt;0.0001</text>
<line x1="605.60" y1="163.50" x2="645.50" y2="163.50" stroke="#000" stroke-width="1.2"/>
<text x="626.00" y="161.30" font-size="9.4" text-anchor="middle" stroke="#000" stroke-width="0.22">****<tspan font-style="italic">p</tspan>&lt;0.0001</text>
<line x1="586.80" y1="176.40" x2="626.00" y2="176.40" stroke="#000" stroke-width="1.2"/>
<text x="607.00" y="174.30" font-size="9.4" text-anchor="middle" stroke="#000" stroke-width="0.22">****<tspan font-style="italic">p</tspan>&lt;0.0001</text>
<text x="-0.20" y="281.80" font-size="11" font-weight="bold"  stroke="#000" stroke-width="0.22">c</text>
<text x="17.80" y="347.20" font-size="11" text-anchor="middle" transform="rotate(-90 17.80 347.20)"  stroke="#000" stroke-width="0.22">Pseudovirus Neutralization</text>
<text x="32.6" y="334.4" font-size="9.8" text-anchor="middle" transform="rotate(-90 32.6 334.4)" stroke="#000" stroke-width="0.22">Log<tspan font-size="6.4" dy="2.2">10</tspan><tspan dy="-2.2">(NT</tspan><tspan font-size="6.4" dy="2.2">50</tspan><tspan dy="-2.2">)</tspan></text>
<text x="44.80" y="334.30" font-size="9.3" text-anchor="middle" transform="rotate(-90 44.80 334.30)"  stroke="#000" stroke-width="0.22">(Reciprocal serum dilution)</text>
<line x1="59.90" y1="285.50" x2="59.90" y2="387.05" stroke="#000" stroke-width="1.3"/>
<line x1="59.25" y1="386.40" x2="172.70" y2="386.40" stroke="#000" stroke-width="1.3"/>
<line x1="56.50" y1="386.40" x2="59.90" y2="386.40" stroke="#000" stroke-width="1.3"/>
<line x1="56.50" y1="371.98" x2="59.90" y2="371.98" stroke="#000" stroke-width="1.3"/>
<line x1="56.50" y1="357.56" x2="59.90" y2="357.56" stroke="#000" stroke-width="1.3"/>
<line x1="56.50" y1="343.14" x2="59.90" y2="343.14" stroke="#000" stroke-width="1.3"/>
<line x1="56.50" y1="328.72" x2="59.90" y2="328.72" stroke="#000" stroke-width="1.3"/>
<line x1="56.50" y1="314.30" x2="59.90" y2="314.30" stroke="#000" stroke-width="1.3"/>
<line x1="56.50" y1="299.88" x2="59.90" y2="299.88" stroke="#000" stroke-width="1.3"/>
<line x1="56.50" y1="285.46" x2="59.90" y2="285.46" stroke="#000" stroke-width="1.3"/>
<line x1="56.50" y1="377.80" x2="59.90" y2="377.80" stroke="#000" stroke-width="1.3"/>
<text x="55.50" y="389.64" font-size="9.0" text-anchor="end"  stroke="#000" stroke-width="0.22">1</text>
<text x="55.50" y="375.22" font-size="9.0" text-anchor="end"  stroke="#000" stroke-width="0.22">2</text>
<text x="55.50" y="360.80" font-size="9.0" text-anchor="end"  stroke="#000" stroke-width="0.22">3</text>
<text x="55.50" y="346.38" font-size="9.0" text-anchor="end"  stroke="#000" stroke-width="0.22">4</text>
<text x="55.50" y="331.96" font-size="9.0" text-anchor="end"  stroke="#000" stroke-width="0.22">5</text>
<text x="55.50" y="317.54" font-size="9.0" text-anchor="end"  stroke="#000" stroke-width="0.22">6</text>
<text x="55.50" y="303.12" font-size="9.0" text-anchor="end"  stroke="#000" stroke-width="0.22">7</text>
<text x="55.50" y="288.70" font-size="9.0" text-anchor="end"  stroke="#000" stroke-width="0.22">8</text>
<line x1="73.90" y1="386.40" x2="73.90" y2="389.80" stroke="#000" stroke-width="1.3"/>
<line x1="94.95" y1="386.40" x2="94.95" y2="389.80" stroke="#000" stroke-width="1.3"/>
<line x1="116.00" y1="386.40" x2="116.00" y2="389.80" stroke="#000" stroke-width="1.3"/>
<line x1="137.05" y1="386.40" x2="137.05" y2="389.80" stroke="#000" stroke-width="1.3"/>
<line x1="158.10" y1="386.40" x2="158.10" y2="389.80" stroke="#000" stroke-width="1.3"/>
<path d="M67.30,386.40 L67.30,380.50 L80.50,380.50 L80.50,386.40" fill="#fff" stroke="#000" stroke-width="1.2"/>
<path d="M88.35,386.40 L88.35,380.50 L101.55,380.50 L101.55,386.40" fill="#fff" stroke="#000" stroke-width="1.2"/>
<path d="M109.40,386.40 L109.40,376.40 L122.60,376.40 L122.60,386.40" fill="#fff" stroke="#000" stroke-width="1.2"/>
<path d="M130.45,386.40 L130.45,369.50 L143.65,369.50 L143.65,386.40" fill="#fff" stroke="#000" stroke-width="1.2"/>
<path d="M151.50,386.40 L151.50,380.50 L164.70,380.50 L164.70,386.40" fill="#fff" stroke="#000" stroke-width="1.2"/>
<line x1="60.90" y1="377.80" x2="171.70" y2="377.80" stroke="#000" stroke-width="1.3" stroke-dasharray="1.3 2.15"/>
<circle cx="68.90" cy="382.00" r="1.95" fill="#c9ddf6" stroke="#050810" stroke-width="0.95"/>
<circle cx="72.30" cy="382.00" r="1.95" fill="#c9ddf6" stroke="#050810" stroke-width="0.95"/>
<circle cx="75.50" cy="382.00" r="1.95" fill="#c9ddf6" stroke="#050810" stroke-width="0.95"/>
<circle cx="78.90" cy="382.00" r="1.95" fill="#c9ddf6" stroke="#050810" stroke-width="0.95"/>
<text x="73.90" y="376.00" font-size="7.0" text-anchor="middle" fill="#222"  stroke="#222" stroke-width="0.22">20</text>
<line x1="94.95" y1="380.50" x2="94.95" y2="377.90" stroke="#000" stroke-width="1.2"/>
<line x1="91.75" y1="377.90" x2="98.15" y2="377.90" stroke="#000" stroke-width="1.2"/>
<circle cx="97.50" cy="375.20" r="2.15" fill="#128aa4" stroke="#050810" stroke-width="1.1"/>
<circle cx="89.95" cy="382.00" r="1.95" fill="#128aa4" stroke="#050810" stroke-width="0.95"/>
<circle cx="93.35" cy="382.00" r="1.95" fill="#128aa4" stroke="#050810" stroke-width="0.95"/>
<circle cx="96.55" cy="382.00" r="1.95" fill="#128aa4" stroke="#050810" stroke-width="0.95"/>
<circle cx="99.95" cy="382.00" r="1.95" fill="#128aa4" stroke="#050810" stroke-width="0.95"/>
<text x="94.95" y="371.70" font-size="7.0" text-anchor="middle" fill="#222"  stroke="#222" stroke-width="0.22">24</text>
<line x1="116.00" y1="376.40" x2="116.00" y2="368.20" stroke="#000" stroke-width="1.2"/>
<line x1="112.80" y1="368.20" x2="119.20" y2="368.20" stroke="#000" stroke-width="1.2"/>
<circle cx="115.80" cy="363.10" r="2.15" fill="#fde0c0" stroke="#050810" stroke-width="1.1"/>
<circle cx="111.10" cy="372.50" r="2.15" fill="#fde0c0" stroke="#050810" stroke-width="1.1"/>
<circle cx="120.50" cy="372.50" r="2.15" fill="#fde0c0" stroke="#050810" stroke-width="1.1"/>
<circle cx="111.10" cy="381.90" r="2.15" fill="#fde0c0" stroke="#050810" stroke-width="1.1"/>
<circle cx="115.80" cy="381.90" r="2.15" fill="#fde0c0" stroke="#050810" stroke-width="1.1"/>
<circle cx="120.50" cy="381.90" r="2.15" fill="#fde0c0" stroke="#050810" stroke-width="1.1"/>
<text x="116.00" y="358.80" font-size="7.0" text-anchor="middle" fill="#222"  stroke="#222" stroke-width="0.22">54</text>
<line x1="137.05" y1="369.50" x2="137.05" y2="361.70" stroke="#000" stroke-width="1.2"/>
<line x1="133.85" y1="361.70" x2="140.25" y2="361.70" stroke="#000" stroke-width="1.2"/>
<circle cx="139.00" cy="355.70" r="2.15" fill="#ff8000" stroke="#050810" stroke-width="1.1"/>
<circle cx="132.50" cy="367.40" r="2.15" fill="#ff8000" stroke="#050810" stroke-width="1.1"/>
<circle cx="135.50" cy="370.00" r="2.15" fill="#ff8000" stroke="#050810" stroke-width="1.1"/>
<circle cx="132.50" cy="373.00" r="2.15" fill="#ff8000" stroke="#050810" stroke-width="1.1"/>
<circle cx="137.70" cy="373.00" r="2.15" fill="#ff8000" stroke="#050810" stroke-width="1.1"/>
<circle cx="142.00" cy="372.30" r="2.15" fill="#ff8000" stroke="#050810" stroke-width="1.1"/>
<text x="137.05" y="351.40" font-size="7.0" text-anchor="middle" fill="#222"  stroke="#222" stroke-width="0.22">178</text>
<rect x="150.80" y="379.50" width="14.6" height="5" rx="2.5" fill="#000"/>
<text x="158.10" y="376.00" font-size="7.0" text-anchor="middle" fill="#222"  stroke="#222" stroke-width="0.22">20</text>
<text x="73.90" y="399.60" font-size="8.8" text-anchor="middle"  stroke="#000" stroke-width="0.22">1</text>
<text x="94.95" y="399.60" font-size="8.8" text-anchor="middle"  stroke="#000" stroke-width="0.22">10</text>
<text x="116.00" y="399.60" font-size="8.8" text-anchor="middle"  stroke="#000" stroke-width="0.22">1</text>
<text x="137.05" y="399.60" font-size="8.8" text-anchor="middle"  stroke="#000" stroke-width="0.22">10</text>
<text x="158.10" y="399.60" font-size="8.8" text-anchor="middle"  stroke="#000" stroke-width="0.22">10</text>
<text x="116.40" y="414.60" font-size="9.4" text-anchor="middle" textLength="90.5" lengthAdjust="spacingAndGlyphs"  stroke="#000" stroke-width="0.22">Immunizing dose (μg)</text>
<line x1="187.60" y1="285.50" x2="187.60" y2="387.05" stroke="#000" stroke-width="1.3"/>
<line x1="186.95" y1="386.40" x2="300.40" y2="386.40" stroke="#000" stroke-width="1.3"/>
<line x1="184.20" y1="386.40" x2="187.60" y2="386.40" stroke="#000" stroke-width="1.3"/>
<line x1="184.20" y1="371.98" x2="187.60" y2="371.98" stroke="#000" stroke-width="1.3"/>
<line x1="184.20" y1="357.56" x2="187.60" y2="357.56" stroke="#000" stroke-width="1.3"/>
<line x1="184.20" y1="343.14" x2="187.60" y2="343.14" stroke="#000" stroke-width="1.3"/>
<line x1="184.20" y1="328.72" x2="187.60" y2="328.72" stroke="#000" stroke-width="1.3"/>
<line x1="184.20" y1="314.30" x2="187.60" y2="314.30" stroke="#000" stroke-width="1.3"/>
<line x1="184.20" y1="299.88" x2="187.60" y2="299.88" stroke="#000" stroke-width="1.3"/>
<line x1="184.20" y1="285.46" x2="187.60" y2="285.46" stroke="#000" stroke-width="1.3"/>
<line x1="184.20" y1="377.80" x2="187.60" y2="377.80" stroke="#000" stroke-width="1.3"/>
<text x="183.20" y="389.64" font-size="9.0" text-anchor="end"  stroke="#000" stroke-width="0.22">1</text>
<text x="183.20" y="375.22" font-size="9.0" text-anchor="end"  stroke="#000" stroke-width="0.22">2</text>
<text x="183.20" y="360.80" font-size="9.0" text-anchor="end"  stroke="#000" stroke-width="0.22">3</text>
<text x="183.20" y="346.38" font-size="9.0" text-anchor="end"  stroke="#000" stroke-width="0.22">4</text>
<text x="183.20" y="331.96" font-size="9.0" text-anchor="end"  stroke="#000" stroke-width="0.22">5</text>
<text x="183.20" y="317.54" font-size="9.0" text-anchor="end"  stroke="#000" stroke-width="0.22">6</text>
<text x="183.20" y="303.12" font-size="9.0" text-anchor="end"  stroke="#000" stroke-width="0.22">7</text>
<text x="183.20" y="288.70" font-size="9.0" text-anchor="end"  stroke="#000" stroke-width="0.22">8</text>
<line x1="201.60" y1="386.40" x2="201.60" y2="389.80" stroke="#000" stroke-width="1.3"/>
<line x1="222.65" y1="386.40" x2="222.65" y2="389.80" stroke="#000" stroke-width="1.3"/>
<line x1="243.70" y1="386.40" x2="243.70" y2="389.80" stroke="#000" stroke-width="1.3"/>
<line x1="264.75" y1="386.40" x2="264.75" y2="389.80" stroke="#000" stroke-width="1.3"/>
<line x1="285.80" y1="386.40" x2="285.80" y2="389.80" stroke="#000" stroke-width="1.3"/>
<path d="M195.00,386.40 L195.00,380.50 L208.20,380.50 L208.20,386.40" fill="#fff" stroke="#000" stroke-width="1.2"/>
<path d="M216.05,386.40 L216.05,377.30 L229.25,377.30 L229.25,386.40" fill="#fff" stroke="#000" stroke-width="1.2"/>
<path d="M237.10,386.40 L237.10,363.20 L250.30,363.20 L250.30,386.40" fill="#fff" stroke="#000" stroke-width="1.2"/>
<path d="M258.15,386.40 L258.15,354.30 L271.35,354.30 L271.35,386.40" fill="#fff" stroke="#000" stroke-width="1.2"/>
<path d="M279.20,386.40 L279.20,380.50 L292.40,380.50 L292.40,386.40" fill="#fff" stroke="#000" stroke-width="1.2"/>
<line x1="188.60" y1="377.80" x2="299.40" y2="377.80" stroke="#000" stroke-width="1.3" stroke-dasharray="1.3 2.15"/>
<circle cx="196.60" cy="382.30" r="1.95" fill="#c9ddf6" stroke="#050810" stroke-width="0.95"/>
<circle cx="200.00" cy="382.30" r="1.95" fill="#c9ddf6" stroke="#050810" stroke-width="0.95"/>
<circle cx="203.20" cy="382.30" r="1.95" fill="#c9ddf6" stroke="#050810" stroke-width="0.95"/>
<circle cx="206.60" cy="382.30" r="1.95" fill="#c9ddf6" stroke="#050810" stroke-width="0.95"/>
<text x="201.60" y="376.60" font-size="7.0" text-anchor="middle" fill="#222"  stroke="#222" stroke-width="0.22">20</text>
<line x1="222.65" y1="377.30" x2="222.65" y2="371.90" stroke="#000" stroke-width="1.2"/>
<line x1="219.45" y1="371.90" x2="225.85" y2="371.90" stroke="#000" stroke-width="1.2"/>
<circle cx="222.90" cy="366.50" r="2.15" fill="#128aa4" stroke="#050810" stroke-width="1.1"/>
<circle cx="227.60" cy="372.60" r="2.15" fill="#128aa4" stroke="#050810" stroke-width="1.1"/>
<circle cx="222.90" cy="377.30" r="2.15" fill="#128aa4" stroke="#050810" stroke-width="1.1"/>
<circle cx="218.20" cy="381.30" r="2.15" fill="#128aa4" stroke="#050810" stroke-width="1.1"/>
<circle cx="222.90" cy="381.30" r="2.15" fill="#128aa4" stroke="#050810" stroke-width="1.1"/>
<circle cx="227.60" cy="381.30" r="2.15" fill="#128aa4" stroke="#050810" stroke-width="1.1"/>
<text x="222.65" y="361.80" font-size="7.0" text-anchor="middle" fill="#222"  stroke="#222" stroke-width="0.22">46</text>
<line x1="243.70" y1="363.20" x2="243.70" y2="353.60" stroke="#000" stroke-width="1.2"/>
<line x1="240.50" y1="353.60" x2="246.90" y2="353.60" stroke="#000" stroke-width="1.2"/>
<line x1="243.70" y1="363.20" x2="243.70" y2="370.70" stroke="#000" stroke-width="1.2"/>
<line x1="240.50" y1="370.70" x2="246.90" y2="370.70" stroke="#000" stroke-width="1.2"/>
<circle cx="244.00" cy="345.60" r="2.15" fill="#fde0c0" stroke="#050810" stroke-width="1.1"/>
<circle cx="239.30" cy="363.70" r="2.15" fill="#fde0c0" stroke="#050810" stroke-width="1.1"/>
<circle cx="248.70" cy="360.10" r="2.15" fill="#fde0c0" stroke="#050810" stroke-width="1.1"/>
<circle cx="242.80" cy="366.50" r="2.15" fill="#fde0c0" stroke="#050810" stroke-width="1.1"/>
<circle cx="238.80" cy="370.70" r="2.15" fill="#fde0c0" stroke="#050810" stroke-width="1.1"/>
<circle cx="247.50" cy="370.70" r="2.15" fill="#fde0c0" stroke="#050810" stroke-width="1.1"/>
<text x="243.70" y="342.50" font-size="7.0" text-anchor="middle" fill="#222"  stroke="#222" stroke-width="0.22">435</text>
<line x1="264.75" y1="354.30" x2="264.75" y2="349.10" stroke="#000" stroke-width="1.2"/>
<line x1="261.55" y1="349.10" x2="267.95" y2="349.10" stroke="#000" stroke-width="1.2"/>
<line x1="264.75" y1="354.30" x2="264.75" y2="359.00" stroke="#000" stroke-width="1.2"/>
<line x1="261.55" y1="359.00" x2="267.95" y2="359.00" stroke="#000" stroke-width="1.2"/>
<circle cx="263.50" cy="346.00" r="2.15" fill="#ff8000" stroke="#050810" stroke-width="1.1"/>
<circle cx="260.40" cy="350.70" r="2.15" fill="#ff8000" stroke="#050810" stroke-width="1.1"/>
<circle cx="260.40" cy="357.10" r="2.15" fill="#ff8000" stroke="#050810" stroke-width="1.1"/>
<circle cx="265.10" cy="357.10" r="2.15" fill="#ff8000" stroke="#050810" stroke-width="1.1"/>
<circle cx="269.80" cy="356.10" r="2.15" fill="#ff8000" stroke="#050810" stroke-width="1.1"/>
<circle cx="267.00" cy="355.00" r="2.15" fill="#ff8000" stroke="#050810" stroke-width="1.1"/>
<text x="264.75" y="342.50" font-size="7.0" text-anchor="middle" fill="#222"  stroke="#222" stroke-width="0.22">1725</text>
<rect x="278.50" y="380.00" width="14.6" height="5" rx="2.5" fill="#000"/>
<text x="285.80" y="376.60" font-size="7.0" text-anchor="middle" fill="#222"  stroke="#222" stroke-width="0.22">20</text>
<text x="201.60" y="399.60" font-size="8.8" text-anchor="middle"  stroke="#000" stroke-width="0.22">1</text>
<text x="222.65" y="399.60" font-size="8.8" text-anchor="middle"  stroke="#000" stroke-width="0.22">10</text>
<text x="243.70" y="399.60" font-size="8.8" text-anchor="middle"  stroke="#000" stroke-width="0.22">1</text>
<text x="264.75" y="399.60" font-size="8.8" text-anchor="middle"  stroke="#000" stroke-width="0.22">10</text>
<text x="285.80" y="399.60" font-size="8.8" text-anchor="middle"  stroke="#000" stroke-width="0.22">10</text>
<text x="244.10" y="414.60" font-size="9.4" text-anchor="middle" textLength="90.5" lengthAdjust="spacingAndGlyphs"  stroke="#000" stroke-width="0.22">Immunizing dose (μg)</text>
<line x1="315.30" y1="285.50" x2="315.30" y2="387.05" stroke="#000" stroke-width="1.3"/>
<line x1="314.65" y1="386.40" x2="428.10" y2="386.40" stroke="#000" stroke-width="1.3"/>
<line x1="311.90" y1="386.40" x2="315.30" y2="386.40" stroke="#000" stroke-width="1.3"/>
<line x1="311.90" y1="371.98" x2="315.30" y2="371.98" stroke="#000" stroke-width="1.3"/>
<line x1="311.90" y1="357.56" x2="315.30" y2="357.56" stroke="#000" stroke-width="1.3"/>
<line x1="311.90" y1="343.14" x2="315.30" y2="343.14" stroke="#000" stroke-width="1.3"/>
<line x1="311.90" y1="328.72" x2="315.30" y2="328.72" stroke="#000" stroke-width="1.3"/>
<line x1="311.90" y1="314.30" x2="315.30" y2="314.30" stroke="#000" stroke-width="1.3"/>
<line x1="311.90" y1="299.88" x2="315.30" y2="299.88" stroke="#000" stroke-width="1.3"/>
<line x1="311.90" y1="285.46" x2="315.30" y2="285.46" stroke="#000" stroke-width="1.3"/>
<line x1="311.90" y1="377.80" x2="315.30" y2="377.80" stroke="#000" stroke-width="1.3"/>
<text x="310.90" y="389.64" font-size="9.0" text-anchor="end"  stroke="#000" stroke-width="0.22">1</text>
<text x="310.90" y="375.22" font-size="9.0" text-anchor="end"  stroke="#000" stroke-width="0.22">2</text>
<text x="310.90" y="360.80" font-size="9.0" text-anchor="end"  stroke="#000" stroke-width="0.22">3</text>
<text x="310.90" y="346.38" font-size="9.0" text-anchor="end"  stroke="#000" stroke-width="0.22">4</text>
<text x="310.90" y="331.96" font-size="9.0" text-anchor="end"  stroke="#000" stroke-width="0.22">5</text>
<text x="310.90" y="317.54" font-size="9.0" text-anchor="end"  stroke="#000" stroke-width="0.22">6</text>
<text x="310.90" y="303.12" font-size="9.0" text-anchor="end"  stroke="#000" stroke-width="0.22">7</text>
<text x="310.90" y="288.70" font-size="9.0" text-anchor="end"  stroke="#000" stroke-width="0.22">8</text>
<line x1="329.30" y1="386.40" x2="329.30" y2="389.80" stroke="#000" stroke-width="1.3"/>
<line x1="350.35" y1="386.40" x2="350.35" y2="389.80" stroke="#000" stroke-width="1.3"/>
<line x1="371.40" y1="386.40" x2="371.40" y2="389.80" stroke="#000" stroke-width="1.3"/>
<line x1="392.45" y1="386.40" x2="392.45" y2="389.80" stroke="#000" stroke-width="1.3"/>
<line x1="413.50" y1="386.40" x2="413.50" y2="389.80" stroke="#000" stroke-width="1.3"/>
<path d="M322.70,386.40 L322.70,380.50 L335.90,380.50 L335.90,386.40" fill="#fff" stroke="#000" stroke-width="1.2"/>
<path d="M343.75,386.40 L343.75,368.40 L356.95,368.40 L356.95,386.40" fill="#fff" stroke="#000" stroke-width="1.2"/>
<path d="M364.80,386.40 L364.80,353.10 L378.00,353.10 L378.00,386.40" fill="#fff" stroke="#000" stroke-width="1.2"/>
<path d="M385.85,386.40 L385.85,348.40 L399.05,348.40 L399.05,386.40" fill="#fff" stroke="#000" stroke-width="1.2"/>
<path d="M406.90,386.40 L406.90,380.50 L420.10,380.50 L420.10,386.40" fill="#fff" stroke="#000" stroke-width="1.2"/>
<line x1="316.30" y1="377.80" x2="427.10" y2="377.80" stroke="#000" stroke-width="1.3" stroke-dasharray="1.3 2.15"/>
<circle cx="324.30" cy="382.30" r="1.95" fill="#c9ddf6" stroke="#050810" stroke-width="0.95"/>
<circle cx="327.70" cy="382.30" r="1.95" fill="#c9ddf6" stroke="#050810" stroke-width="0.95"/>
<circle cx="330.90" cy="382.30" r="1.95" fill="#c9ddf6" stroke="#050810" stroke-width="0.95"/>
<circle cx="334.30" cy="382.30" r="1.95" fill="#c9ddf6" stroke="#050810" stroke-width="0.95"/>
<text x="329.30" y="376.00" font-size="7.0" text-anchor="middle" fill="#222"  stroke="#222" stroke-width="0.22">20</text>
<line x1="350.35" y1="368.40" x2="350.35" y2="363.70" stroke="#000" stroke-width="1.2"/>
<line x1="347.15" y1="363.70" x2="353.55" y2="363.70" stroke="#000" stroke-width="1.2"/>
<line x1="350.35" y1="368.40" x2="350.35" y2="378.00" stroke="#000" stroke-width="1.2"/>
<line x1="347.15" y1="378.00" x2="353.55" y2="378.00" stroke="#000" stroke-width="1.2"/>
<circle cx="350.00" cy="358.50" r="2.15" fill="#128aa4" stroke="#050810" stroke-width="1.1"/>
<circle cx="345.30" cy="368.40" r="2.15" fill="#128aa4" stroke="#050810" stroke-width="1.1"/>
<circle cx="350.50" cy="370.40" r="2.15" fill="#128aa4" stroke="#050810" stroke-width="1.1"/>
<circle cx="355.20" cy="368.20" r="2.15" fill="#128aa4" stroke="#050810" stroke-width="1.1"/>
<circle cx="345.30" cy="381.30" r="2.15" fill="#128aa4" stroke="#050810" stroke-width="1.1"/>
<circle cx="355.20" cy="381.30" r="2.15" fill="#128aa4" stroke="#050810" stroke-width="1.1"/>
<text x="350.35" y="353.80" font-size="7.0" text-anchor="middle" fill="#222"  stroke="#222" stroke-width="0.22">86</text>
<line x1="371.40" y1="353.10" x2="371.40" y2="348.40" stroke="#000" stroke-width="1.2"/>
<line x1="368.20" y1="348.40" x2="374.60" y2="348.40" stroke="#000" stroke-width="1.2"/>
<line x1="371.40" y1="353.10" x2="371.40" y2="358.00" stroke="#000" stroke-width="1.2"/>
<line x1="368.20" y1="358.00" x2="374.60" y2="358.00" stroke="#000" stroke-width="1.2"/>
<circle cx="373.30" cy="344.40" r="2.15" fill="#fde0c0" stroke="#050810" stroke-width="1.1"/>
<circle cx="367.00" cy="354.70" r="2.15" fill="#fde0c0" stroke="#050810" stroke-width="1.1"/>
<circle cx="371.60" cy="352.40" r="2.15" fill="#fde0c0" stroke="#050810" stroke-width="1.1"/>
<circle cx="376.30" cy="353.10" r="2.15" fill="#fde0c0" stroke="#050810" stroke-width="1.1"/>
<circle cx="370.50" cy="357.80" r="2.15" fill="#fde0c0" stroke="#050810" stroke-width="1.1"/>
<circle cx="374.70" cy="360.10" r="2.15" fill="#fde0c0" stroke="#050810" stroke-width="1.1"/>
<text x="371.40" y="339.70" font-size="7.0" text-anchor="middle" fill="#222"  stroke="#222" stroke-width="0.22">1524</text>
<line x1="392.45" y1="348.40" x2="392.45" y2="343.20" stroke="#000" stroke-width="1.2"/>
<line x1="389.25" y1="343.20" x2="395.65" y2="343.20" stroke="#000" stroke-width="1.2"/>
<line x1="392.45" y1="348.40" x2="392.45" y2="353.00" stroke="#000" stroke-width="1.2"/>
<line x1="389.25" y1="353.00" x2="395.65" y2="353.00" stroke="#000" stroke-width="1.2"/>
<circle cx="391.10" cy="339.70" r="2.15" fill="#ff8000" stroke="#050810" stroke-width="1.1"/>
<circle cx="388.10" cy="345.60" r="2.15" fill="#ff8000" stroke="#050810" stroke-width="1.1"/>
<circle cx="394.00" cy="347.70" r="2.15" fill="#ff8000" stroke="#050810" stroke-width="1.1"/>
<circle cx="388.10" cy="352.40" r="2.15" fill="#ff8000" stroke="#050810" stroke-width="1.1"/>
<circle cx="392.80" cy="351.40" r="2.15" fill="#ff8000" stroke="#050810" stroke-width="1.1"/>
<circle cx="396.80" cy="351.40" r="2.15" fill="#ff8000" stroke="#050810" stroke-width="1.1"/>
<text x="392.45" y="334.30" font-size="7.0" text-anchor="middle" fill="#222"  stroke="#222" stroke-width="0.22">3828</text>
<rect x="406.20" y="380.00" width="14.6" height="5" rx="2.5" fill="#000"/>
<text x="413.50" y="375.90" font-size="7.0" text-anchor="middle" fill="#222"  stroke="#222" stroke-width="0.22">20</text>
<text x="329.30" y="399.60" font-size="8.8" text-anchor="middle"  stroke="#000" stroke-width="0.22">1</text>
<text x="350.35" y="399.60" font-size="8.8" text-anchor="middle"  stroke="#000" stroke-width="0.22">10</text>
<text x="371.40" y="399.60" font-size="8.8" text-anchor="middle"  stroke="#000" stroke-width="0.22">1</text>
<text x="392.45" y="399.60" font-size="8.8" text-anchor="middle"  stroke="#000" stroke-width="0.22">10</text>
<text x="413.50" y="399.60" font-size="8.8" text-anchor="middle"  stroke="#000" stroke-width="0.22">10</text>
<text x="371.80" y="414.60" font-size="9.4" text-anchor="middle" textLength="90.5" lengthAdjust="spacingAndGlyphs"  stroke="#000" stroke-width="0.22">Immunizing dose (μg)</text>
<line x1="443.80" y1="285.50" x2="443.80" y2="387.05" stroke="#000" stroke-width="1.3"/>
<line x1="443.15" y1="386.40" x2="556.60" y2="386.40" stroke="#000" stroke-width="1.3"/>
<line x1="440.40" y1="386.40" x2="443.80" y2="386.40" stroke="#000" stroke-width="1.3"/>
<line x1="440.40" y1="371.98" x2="443.80" y2="371.98" stroke="#000" stroke-width="1.3"/>
<line x1="440.40" y1="357.56" x2="443.80" y2="357.56" stroke="#000" stroke-width="1.3"/>
<line x1="440.40" y1="343.14" x2="443.80" y2="343.14" stroke="#000" stroke-width="1.3"/>
<line x1="440.40" y1="328.72" x2="443.80" y2="328.72" stroke="#000" stroke-width="1.3"/>
<line x1="440.40" y1="314.30" x2="443.80" y2="314.30" stroke="#000" stroke-width="1.3"/>
<line x1="440.40" y1="299.88" x2="443.80" y2="299.88" stroke="#000" stroke-width="1.3"/>
<line x1="440.40" y1="285.46" x2="443.80" y2="285.46" stroke="#000" stroke-width="1.3"/>
<line x1="440.40" y1="362.20" x2="443.80" y2="362.20" stroke="#000" stroke-width="1.3"/>
<text x="439.40" y="389.64" font-size="9.0" text-anchor="end"  stroke="#000" stroke-width="0.22">1</text>
<text x="439.40" y="375.22" font-size="9.0" text-anchor="end"  stroke="#000" stroke-width="0.22">2</text>
<text x="439.40" y="360.80" font-size="9.0" text-anchor="end"  stroke="#000" stroke-width="0.22">3</text>
<text x="439.40" y="346.38" font-size="9.0" text-anchor="end"  stroke="#000" stroke-width="0.22">4</text>
<text x="439.40" y="331.96" font-size="9.0" text-anchor="end"  stroke="#000" stroke-width="0.22">5</text>
<text x="439.40" y="317.54" font-size="9.0" text-anchor="end"  stroke="#000" stroke-width="0.22">6</text>
<text x="439.40" y="303.12" font-size="9.0" text-anchor="end"  stroke="#000" stroke-width="0.22">7</text>
<text x="439.40" y="288.70" font-size="9.0" text-anchor="end"  stroke="#000" stroke-width="0.22">8</text>
<line x1="457.80" y1="386.40" x2="457.80" y2="389.80" stroke="#000" stroke-width="1.3"/>
<line x1="478.85" y1="386.40" x2="478.85" y2="389.80" stroke="#000" stroke-width="1.3"/>
<line x1="499.90" y1="386.40" x2="499.90" y2="389.80" stroke="#000" stroke-width="1.3"/>
<line x1="520.95" y1="386.40" x2="520.95" y2="389.80" stroke="#000" stroke-width="1.3"/>
<line x1="542.00" y1="386.40" x2="542.00" y2="389.80" stroke="#000" stroke-width="1.3"/>
<path d="M451.20,386.40 L451.20,353.30 L464.40,353.30 L464.40,386.40" fill="#fff" stroke="#000" stroke-width="1.2"/>
<path d="M472.25,386.40 L472.25,333.70 L485.45,333.70 L485.45,386.40" fill="#fff" stroke="#000" stroke-width="1.2"/>
<path d="M493.30,386.40 L493.30,319.30 L506.50,319.30 L506.50,386.40" fill="#fff" stroke="#000" stroke-width="1.2"/>
<path d="M514.35,386.40 L514.35,323.30 L527.55,323.30 L527.55,386.40" fill="#fff" stroke="#000" stroke-width="1.2"/>
<path d="M535.40,386.40 L535.40,366.20 L548.60,366.20 L548.60,386.40" fill="#fff" stroke="#000" stroke-width="1.2"/>
<line x1="444.80" y1="362.20" x2="555.60" y2="362.20" stroke="#000" stroke-width="1.3" stroke-dasharray="1.3 2.15"/>
<line x1="457.80" y1="353.30" x2="457.80" y2="345.00" stroke="#000" stroke-width="1.2"/>
<line x1="454.60" y1="345.00" x2="461.00" y2="345.00" stroke="#000" stroke-width="1.2"/>
<line x1="457.80" y1="353.30" x2="457.80" y2="360.00" stroke="#000" stroke-width="1.2"/>
<line x1="454.60" y1="360.00" x2="461.00" y2="360.00" stroke="#000" stroke-width="1.2"/>
<circle cx="452.70" cy="348.50" r="2.15" fill="#c9ddf6" stroke="#050810" stroke-width="1.1"/>
<circle cx="457.50" cy="347.40" r="2.15" fill="#c9ddf6" stroke="#050810" stroke-width="1.1"/>
<circle cx="462.30" cy="348.50" r="2.15" fill="#c9ddf6" stroke="#050810" stroke-width="1.1"/>
<circle cx="462.30" cy="353.80" r="2.15" fill="#c9ddf6" stroke="#050810" stroke-width="1.1"/>
<circle cx="457.50" cy="356.50" r="2.15" fill="#c9ddf6" stroke="#050810" stroke-width="1.1"/>
<circle cx="457.50" cy="361.80" r="2.15" fill="#c9ddf6" stroke="#050810" stroke-width="1.1"/>
<text x="457.80" y="343.70" font-size="7.0" text-anchor="middle" fill="#222"  stroke="#222" stroke-width="0.22">1997</text>
<line x1="478.85" y1="333.70" x2="478.85" y2="328.60" stroke="#000" stroke-width="1.2"/>
<line x1="475.65" y1="328.60" x2="482.05" y2="328.60" stroke="#000" stroke-width="1.2"/>
<line x1="478.85" y1="333.70" x2="478.85" y2="338.00" stroke="#000" stroke-width="1.2"/>
<line x1="475.65" y1="338.00" x2="482.05" y2="338.00" stroke="#000" stroke-width="1.2"/>
<circle cx="473.90" cy="327.30" r="2.15" fill="#128aa4" stroke="#050810" stroke-width="1.1"/>
<circle cx="483.20" cy="326.00" r="2.15" fill="#128aa4" stroke="#050810" stroke-width="1.1"/>
<circle cx="483.20" cy="331.80" r="2.15" fill="#128aa4" stroke="#050810" stroke-width="1.1"/>
<circle cx="478.70" cy="335.30" r="2.15" fill="#128aa4" stroke="#050810" stroke-width="1.1"/>
<circle cx="473.90" cy="337.40" r="2.15" fill="#128aa4" stroke="#050810" stroke-width="1.1"/>
<circle cx="483.20" cy="337.40" r="2.15" fill="#128aa4" stroke="#050810" stroke-width="1.1"/>
<text x="478.85" y="322.80" font-size="7.0" text-anchor="middle" fill="#222"  stroke="#222" stroke-width="0.22">52269</text>
<circle cx="494.50" cy="319.00" r="2.15" fill="#fde0c0" stroke="#050810" stroke-width="1.1"/>
<circle cx="497.20" cy="320.10" r="2.15" fill="#fde0c0" stroke="#050810" stroke-width="1.1"/>
<circle cx="500.40" cy="320.60" r="2.15" fill="#fde0c0" stroke="#050810" stroke-width="1.1"/>
<circle cx="504.40" cy="319.30" r="2.15" fill="#fde0c0" stroke="#050810" stroke-width="1.1"/>
<circle cx="497.20" cy="324.90" r="2.15" fill="#fde0c0" stroke="#050810" stroke-width="1.1"/>
<circle cx="502.00" cy="323.80" r="2.15" fill="#fde0c0" stroke="#050810" stroke-width="1.1"/>
<text x="499.90" y="315.30" font-size="7.0" text-anchor="middle" fill="#222"  stroke="#222" stroke-width="0.22">299655</text>
<circle cx="515.70" cy="319.60" r="2.15" fill="#ff8000" stroke="#050810" stroke-width="1.1"/>
<circle cx="522.40" cy="317.70" r="2.15" fill="#ff8000" stroke="#050810" stroke-width="1.1"/>
<circle cx="519.70" cy="321.70" r="2.15" fill="#ff8000" stroke="#050810" stroke-width="1.1"/>
<circle cx="525.30" cy="324.90" r="2.15" fill="#ff8000" stroke="#050810" stroke-width="1.1"/>
<circle cx="515.70" cy="325.70" r="2.15" fill="#ff8000" stroke="#050810" stroke-width="1.1"/>
<circle cx="522.10" cy="325.70" r="2.15" fill="#ff8000" stroke="#050810" stroke-width="1.1"/>
<text x="520.95" y="308.80" font-size="7.0" text-anchor="middle" fill="#222"  stroke="#222" stroke-width="0.22">252323</text>
<rect x="534.70" y="363.80" width="14.6" height="5" rx="2.5" fill="#000"/>
<text x="542.00" y="361.00" font-size="7.0" text-anchor="middle" fill="#222"  stroke="#222" stroke-width="0.22">225</text>
<text x="457.80" y="399.60" font-size="8.8" text-anchor="middle"  stroke="#000" stroke-width="0.22">1</text>
<text x="478.85" y="399.60" font-size="8.8" text-anchor="middle"  stroke="#000" stroke-width="0.22">10</text>
<text x="499.90" y="399.60" font-size="8.8" text-anchor="middle"  stroke="#000" stroke-width="0.22">1</text>
<text x="520.95" y="399.60" font-size="8.8" text-anchor="middle"  stroke="#000" stroke-width="0.22">10</text>
<text x="542.00" y="399.60" font-size="8.8" text-anchor="middle"  stroke="#000" stroke-width="0.22">10</text>
<text x="500.30" y="414.60" font-size="9.4" text-anchor="middle" textLength="90.5" lengthAdjust="spacingAndGlyphs"  stroke="#000" stroke-width="0.22">Immunizing dose (μg)</text>
<line x1="571.90" y1="285.50" x2="571.90" y2="387.05" stroke="#000" stroke-width="1.3"/>
<line x1="571.25" y1="386.40" x2="684.70" y2="386.40" stroke="#000" stroke-width="1.3"/>
<line x1="568.50" y1="386.40" x2="571.90" y2="386.40" stroke="#000" stroke-width="1.3"/>
<line x1="568.50" y1="371.98" x2="571.90" y2="371.98" stroke="#000" stroke-width="1.3"/>
<line x1="568.50" y1="357.56" x2="571.90" y2="357.56" stroke="#000" stroke-width="1.3"/>
<line x1="568.50" y1="343.14" x2="571.90" y2="343.14" stroke="#000" stroke-width="1.3"/>
<line x1="568.50" y1="328.72" x2="571.90" y2="328.72" stroke="#000" stroke-width="1.3"/>
<line x1="568.50" y1="314.30" x2="571.90" y2="314.30" stroke="#000" stroke-width="1.3"/>
<line x1="568.50" y1="299.88" x2="571.90" y2="299.88" stroke="#000" stroke-width="1.3"/>
<line x1="568.50" y1="285.46" x2="571.90" y2="285.46" stroke="#000" stroke-width="1.3"/>
<line x1="568.50" y1="363.30" x2="571.90" y2="363.30" stroke="#000" stroke-width="1.3"/>
<text x="567.50" y="389.64" font-size="9.0" text-anchor="end"  stroke="#000" stroke-width="0.22">1</text>
<text x="567.50" y="375.22" font-size="9.0" text-anchor="end"  stroke="#000" stroke-width="0.22">2</text>
<text x="567.50" y="360.80" font-size="9.0" text-anchor="end"  stroke="#000" stroke-width="0.22">3</text>
<text x="567.50" y="346.38" font-size="9.0" text-anchor="end"  stroke="#000" stroke-width="0.22">4</text>
<text x="567.50" y="331.96" font-size="9.0" text-anchor="end"  stroke="#000" stroke-width="0.22">5</text>
<text x="567.50" y="317.54" font-size="9.0" text-anchor="end"  stroke="#000" stroke-width="0.22">6</text>
<text x="567.50" y="303.12" font-size="9.0" text-anchor="end"  stroke="#000" stroke-width="0.22">7</text>
<text x="567.50" y="288.70" font-size="9.0" text-anchor="end"  stroke="#000" stroke-width="0.22">8</text>
<line x1="585.90" y1="386.40" x2="585.90" y2="389.80" stroke="#000" stroke-width="1.3"/>
<line x1="606.95" y1="386.40" x2="606.95" y2="389.80" stroke="#000" stroke-width="1.3"/>
<line x1="628.00" y1="386.40" x2="628.00" y2="389.80" stroke="#000" stroke-width="1.3"/>
<line x1="649.05" y1="386.40" x2="649.05" y2="389.80" stroke="#000" stroke-width="1.3"/>
<line x1="670.10" y1="386.40" x2="670.10" y2="389.80" stroke="#000" stroke-width="1.3"/>
<path d="M579.30,386.40 L579.30,323.80 L592.50,323.80 L592.50,386.40" fill="#fff" stroke="#000" stroke-width="1.2"/>
<path d="M600.35,386.40 L600.35,321.70 L613.55,321.70 L613.55,386.40" fill="#fff" stroke="#000" stroke-width="1.2"/>
<path d="M621.40,386.40 L621.40,318.50 L634.60,318.50 L634.60,386.40" fill="#fff" stroke="#000" stroke-width="1.2"/>
<path d="M642.45,386.40 L642.45,317.70 L655.65,317.70 L655.65,386.40" fill="#fff" stroke="#000" stroke-width="1.2"/>
<path d="M663.50,386.40 L663.50,366.60 L676.70,366.60 L676.70,386.40" fill="#fff" stroke="#000" stroke-width="1.2"/>
<line x1="572.90" y1="363.30" x2="683.70" y2="363.30" stroke="#000" stroke-width="1.3" stroke-dasharray="1.3 2.15"/>
<line x1="585.90" y1="323.80" x2="585.90" y2="316.00" stroke="#000" stroke-width="1.2"/>
<line x1="582.70" y1="316.00" x2="589.10" y2="316.00" stroke="#000" stroke-width="1.2"/>
<line x1="585.90" y1="323.80" x2="585.90" y2="331.00" stroke="#000" stroke-width="1.2"/>
<line x1="582.70" y1="331.00" x2="589.10" y2="331.00" stroke="#000" stroke-width="1.2"/>
<circle cx="585.90" cy="311.20" r="2.15" fill="#c9ddf6" stroke="#050810" stroke-width="1.1"/>
<circle cx="585.90" cy="318.00" r="2.15" fill="#c9ddf6" stroke="#050810" stroke-width="1.1"/>
<circle cx="581.10" cy="323.30" r="2.15" fill="#c9ddf6" stroke="#050810" stroke-width="1.1"/>
<circle cx="585.90" cy="327.00" r="2.15" fill="#c9ddf6" stroke="#050810" stroke-width="1.1"/>
<circle cx="590.70" cy="327.30" r="2.15" fill="#c9ddf6" stroke="#050810" stroke-width="1.1"/>
<circle cx="581.10" cy="330.20" r="2.15" fill="#c9ddf6" stroke="#050810" stroke-width="1.1"/>
<text x="585.90" y="307.20" font-size="7.0" text-anchor="middle" fill="#222"  stroke="#222" stroke-width="0.22">270873</text>
<line x1="606.95" y1="321.70" x2="606.95" y2="318.00" stroke="#000" stroke-width="1.2"/>
<line x1="603.75" y1="318.00" x2="610.15" y2="318.00" stroke="#000" stroke-width="1.2"/>
<line x1="606.95" y1="321.70" x2="606.95" y2="329.00" stroke="#000" stroke-width="1.2"/>
<line x1="603.75" y1="329.00" x2="610.15" y2="329.00" stroke="#000" stroke-width="1.2"/>
<circle cx="602.30" cy="321.20" r="2.15" fill="#128aa4" stroke="#050810" stroke-width="1.1"/>
<circle cx="607.10" cy="320.60" r="2.15" fill="#128aa4" stroke="#050810" stroke-width="1.1"/>
<circle cx="611.60" cy="316.90" r="2.15" fill="#128aa4" stroke="#050810" stroke-width="1.1"/>
<circle cx="607.10" cy="325.40" r="2.15" fill="#128aa4" stroke="#050810" stroke-width="1.1"/>
<circle cx="611.90" cy="324.40" r="2.15" fill="#128aa4" stroke="#050810" stroke-width="1.1"/>
<circle cx="607.10" cy="331.30" r="2.15" fill="#128aa4" stroke="#050810" stroke-width="1.1"/>
<text x="606.95" y="314.10" font-size="7.0" text-anchor="middle" fill="#222"  stroke="#222" stroke-width="0.22">250673</text>
<circle cx="625.60" cy="314.50" r="2.15" fill="#fde0c0" stroke="#050810" stroke-width="1.1"/>
<circle cx="628.30" cy="312.00" r="2.15" fill="#fde0c0" stroke="#050810" stroke-width="1.1"/>
<circle cx="631.20" cy="315.30" r="2.15" fill="#fde0c0" stroke="#050810" stroke-width="1.1"/>
<circle cx="622.90" cy="317.70" r="2.15" fill="#fde0c0" stroke="#050810" stroke-width="1.1"/>
<circle cx="628.00" cy="317.70" r="2.15" fill="#fde0c0" stroke="#050810" stroke-width="1.1"/>
<circle cx="633.10" cy="317.70" r="2.15" fill="#fde0c0" stroke="#050810" stroke-width="1.1"/>
<text x="628.00" y="306.70" font-size="7.0" text-anchor="middle" fill="#222"  stroke="#222" stroke-width="0.22">859397</text>
<circle cx="644.40" cy="316.90" r="2.15" fill="#ff8000" stroke="#050810" stroke-width="1.1"/>
<circle cx="647.30" cy="316.10" r="2.15" fill="#ff8000" stroke="#050810" stroke-width="1.1"/>
<circle cx="650.50" cy="316.10" r="2.15" fill="#ff8000" stroke="#050810" stroke-width="1.1"/>
<circle cx="654.00" cy="316.10" r="2.15" fill="#ff8000" stroke="#050810" stroke-width="1.1"/>
<circle cx="648.60" cy="318.50" r="2.15" fill="#ff8000" stroke="#050810" stroke-width="1.1"/>
<circle cx="652.10" cy="318.00" r="2.15" fill="#ff8000" stroke="#050810" stroke-width="1.1"/>
<text x="649.05" y="311.60" font-size="7.0" text-anchor="middle" fill="#222"  stroke="#222" stroke-width="0.22">744568</text>
<rect x="662.80" y="364.50" width="14.6" height="5" rx="2.5" fill="#000"/>
<text x="670.10" y="362.30" font-size="7.0" text-anchor="middle" fill="#222"  stroke="#222" stroke-width="0.22">225</text>
<text x="585.90" y="399.60" font-size="8.8" text-anchor="middle"  stroke="#000" stroke-width="0.22">1</text>
<text x="606.95" y="399.60" font-size="8.8" text-anchor="middle"  stroke="#000" stroke-width="0.22">10</text>
<text x="628.00" y="399.60" font-size="8.8" text-anchor="middle"  stroke="#000" stroke-width="0.22">1</text>
<text x="649.05" y="399.60" font-size="8.8" text-anchor="middle"  stroke="#000" stroke-width="0.22">10</text>
<text x="670.10" y="399.60" font-size="8.8" text-anchor="middle"  stroke="#000" stroke-width="0.22">10</text>
<text x="628.40" y="414.60" font-size="9.4" text-anchor="middle" textLength="90.5" lengthAdjust="spacingAndGlyphs"  stroke="#000" stroke-width="0.22">Immunizing dose (μg)</text>
<line x1="94.10" y1="286.30" x2="134.00" y2="286.30" stroke="#000" stroke-width="1.2"/>
<text x="114.30" y="283.90" font-size="9.4" text-anchor="middle" stroke="#000" stroke-width="0.22">ns <tspan font-style="italic">p</tspan>=0.2061</text>
<line x1="74.90" y1="299.50" x2="115.10" y2="299.50" stroke="#000" stroke-width="1.2"/>
<text x="95.90" y="297.00" font-size="9.4" text-anchor="middle" stroke="#000" stroke-width="0.22">ns <tspan font-style="italic">p</tspan>=0.9719</text>
<line x1="222.10" y1="286.10" x2="262.10" y2="286.10" stroke="#000" stroke-width="1.2"/>
<text x="242.60" y="283.90" font-size="9.4" text-anchor="middle" stroke="#000" stroke-width="0.22">ns <tspan font-style="italic">p</tspan>=0.1214</text>
<line x1="202.90" y1="299.50" x2="243.30" y2="299.50" stroke="#000" stroke-width="1.2"/>
<text x="223.20" y="297.00" font-size="9.4" text-anchor="middle" stroke="#000" stroke-width="0.22">ns <tspan font-style="italic">p</tspan>=0.5436</text>
<line x1="349.30" y1="286.10" x2="389.70" y2="286.10" stroke="#000" stroke-width="1.2"/>
<text x="369.90" y="283.90" font-size="9.4" text-anchor="middle" stroke="#000" stroke-width="0.22">*<tspan font-style="italic">p</tspan>=0.0206</text>
<line x1="330.50" y1="299.50" x2="370.50" y2="299.50" stroke="#000" stroke-width="1.2"/>
<text x="351.10" y="297.00" font-size="9.4" text-anchor="middle" stroke="#000" stroke-width="0.22">ns <tspan font-style="italic">p</tspan>=0.6054</text>
<line x1="477.90" y1="285.70" x2="517.80" y2="285.70" stroke="#000" stroke-width="1.2"/>
<text x="497.30" y="283.60" font-size="9.4" text-anchor="middle" stroke="#000" stroke-width="0.22">**<tspan font-style="italic">p</tspan>=0.0033</text>
<line x1="458.40" y1="299.50" x2="499.00" y2="299.50" stroke="#000" stroke-width="1.2"/>
<text x="480.00" y="297.20" font-size="9.4" text-anchor="middle" stroke="#000" stroke-width="0.22">****<tspan font-style="italic">p</tspan>&lt;0.0001</text>
<line x1="606.50" y1="286.10" x2="646.00" y2="286.10" stroke="#000" stroke-width="1.2"/>
<text x="626.30" y="283.90" font-size="9.4" text-anchor="middle" stroke="#000" stroke-width="0.22">ns <tspan font-style="italic">p</tspan>=0.2208</text>
<line x1="586.80" y1="299.50" x2="626.70" y2="299.50" stroke="#000" stroke-width="1.2"/>
<text x="607.00" y="297.00" font-size="9.4" text-anchor="middle" stroke="#000" stroke-width="0.22">ns <tspan font-style="italic">p</tspan>=0.2939</text>
<text x="-0.10" y="446.10" font-size="11" font-weight="bold"  stroke="#000" stroke-width="0.22">d</text>
<text x="145.40" y="446.60" font-size="11" text-anchor="middle"  stroke="#000" stroke-width="0.22">ELISA</text>
<text x="32.7" y="514.7" font-size="9.8" text-anchor="middle" transform="rotate(-90 32.7 514.7)" stroke="#000" stroke-width="0.22">Log<tspan font-size="6.4" dy="2.2">10</tspan><tspan dy="-2.2">(EC</tspan><tspan font-size="6.4" dy="2.2">50</tspan><tspan dy="-2.2">)</tspan></text>
<text x="45.20" y="516.20" font-size="9.3" text-anchor="middle" transform="rotate(-90 45.20 516.20)"  stroke="#000" stroke-width="0.22">(Reciprocal serum dilution)</text>
<line x1="60.00" y1="464.70" x2="60.00" y2="566.15" stroke="#000" stroke-width="1.3"/>
<line x1="59.35" y1="565.50" x2="240.60" y2="565.50" stroke="#000" stroke-width="1.3"/>
<line x1="56.60" y1="565.50" x2="60.00" y2="565.50" stroke="#000" stroke-width="1.3"/>
<line x1="56.60" y1="540.30" x2="60.00" y2="540.30" stroke="#000" stroke-width="1.3"/>
<line x1="56.60" y1="515.10" x2="60.00" y2="515.10" stroke="#000" stroke-width="1.3"/>
<line x1="56.60" y1="489.90" x2="60.00" y2="489.90" stroke="#000" stroke-width="1.3"/>
<line x1="56.60" y1="464.70" x2="60.00" y2="464.70" stroke="#000" stroke-width="1.3"/>
<text x="55.60" y="568.74" font-size="9.0" text-anchor="end"  stroke="#000" stroke-width="0.22">1</text>
<text x="55.60" y="543.54" font-size="9.0" text-anchor="end"  stroke="#000" stroke-width="0.22">2</text>
<text x="55.60" y="518.34" font-size="9.0" text-anchor="end"  stroke="#000" stroke-width="0.22">3</text>
<text x="55.60" y="493.14" font-size="9.0" text-anchor="end"  stroke="#000" stroke-width="0.22">4</text>
<text x="55.60" y="467.94" font-size="9.0" text-anchor="end"  stroke="#000" stroke-width="0.22">5</text>
<line x1="79.93" y1="565.50" x2="79.93" y2="568.90" stroke="#000" stroke-width="1.3"/>
<text x="79.93" y="579.50" font-size="8.8" text-anchor="middle"  stroke="#000" stroke-width="0.22">7</text>
<line x1="99.86" y1="565.50" x2="99.86" y2="568.90" stroke="#000" stroke-width="1.3"/>
<text x="99.86" y="579.50" font-size="8.8" text-anchor="middle"  stroke="#000" stroke-width="0.22">14</text>
<line x1="119.79" y1="565.50" x2="119.79" y2="568.90" stroke="#000" stroke-width="1.3"/>
<text x="119.79" y="579.50" font-size="8.8" text-anchor="middle"  stroke="#000" stroke-width="0.22">21</text>
<line x1="139.72" y1="565.50" x2="139.72" y2="568.90" stroke="#000" stroke-width="1.3"/>
<text x="139.72" y="579.50" font-size="8.8" text-anchor="middle"  stroke="#000" stroke-width="0.22">28</text>
<line x1="159.64" y1="565.50" x2="159.64" y2="568.90" stroke="#000" stroke-width="1.3"/>
<text x="159.64" y="579.50" font-size="8.8" text-anchor="middle"  stroke="#000" stroke-width="0.22">35</text>
<line x1="179.57" y1="565.50" x2="179.57" y2="568.90" stroke="#000" stroke-width="1.3"/>
<text x="179.57" y="579.50" font-size="8.8" text-anchor="middle"  stroke="#000" stroke-width="0.22">42</text>
<line x1="199.50" y1="565.50" x2="199.50" y2="568.90" stroke="#000" stroke-width="1.3"/>
<text x="199.50" y="579.50" font-size="8.8" text-anchor="middle"  stroke="#000" stroke-width="0.22">49</text>
<line x1="219.43" y1="565.50" x2="219.43" y2="568.90" stroke="#000" stroke-width="1.3"/>
<text x="219.43" y="579.50" font-size="8.8" text-anchor="middle"  stroke="#000" stroke-width="0.22">56</text>
<line x1="239.36" y1="565.50" x2="239.36" y2="568.90" stroke="#000" stroke-width="1.3"/>
<text x="239.36" y="579.50" font-size="8.8" text-anchor="middle"  stroke="#000" stroke-width="0.22">63</text>
<polyline points="79.90,563.60 99.90,563.60 120.00,563.60 179.70,563.80 234.50,560.70" fill="none" stroke="#000" stroke-width="1.25"/>
<polyline points="79.90,525.60 99.90,517.50 120.00,516.80 179.70,489.20 234.50,484.20" fill="none" stroke="#000" stroke-width="1.25"/>
<polyline points="79.90,560.50 99.90,552.00 120.00,547.40 179.70,505.40 234.50,497.50" fill="none" stroke="#000" stroke-width="1.25"/>
<polyline points="79.90,535.60 99.90,526.90 120.00,525.20 179.70,487.60 234.50,484.50" fill="none" stroke="#000" stroke-width="1.25"/>
<polyline points="79.90,563.60 99.90,563.60 120.00,563.60 179.70,521.90 234.50,497.30" fill="none" stroke="#000" stroke-width="1.25"/>
<line x1="234.50" y1="555.30" x2="234.50" y2="565.00" stroke="#000" stroke-width="1.2"/>
<line x1="231.90" y1="555.30" x2="237.10" y2="555.30" stroke="#000" stroke-width="1.2"/>
<line x1="231.90" y1="565.00" x2="237.10" y2="565.00" stroke="#000" stroke-width="1.2"/>
<line x1="79.90" y1="555.80" x2="79.90" y2="564.00" stroke="#000" stroke-width="1.2"/>
<line x1="77.30" y1="555.80" x2="82.50" y2="555.80" stroke="#000" stroke-width="1.2"/>
<line x1="77.30" y1="564.00" x2="82.50" y2="564.00" stroke="#000" stroke-width="1.2"/>
<line x1="99.90" y1="537.00" x2="99.90" y2="565.00" stroke="#000" stroke-width="1.2"/>
<line x1="97.30" y1="537.00" x2="102.50" y2="537.00" stroke="#000" stroke-width="1.2"/>
<line x1="97.30" y1="565.00" x2="102.50" y2="565.00" stroke="#000" stroke-width="1.2"/>
<line x1="120.00" y1="531.00" x2="120.00" y2="563.00" stroke="#000" stroke-width="1.2"/>
<line x1="117.40" y1="531.00" x2="122.60" y2="531.00" stroke="#000" stroke-width="1.2"/>
<line x1="117.40" y1="563.00" x2="122.60" y2="563.00" stroke="#000" stroke-width="1.2"/>
<line x1="179.70" y1="500.30" x2="179.70" y2="509.40" stroke="#000" stroke-width="1.2"/>
<line x1="177.10" y1="500.30" x2="182.30" y2="500.30" stroke="#000" stroke-width="1.2"/>
<line x1="177.10" y1="509.40" x2="182.30" y2="509.40" stroke="#000" stroke-width="1.2"/>
<line x1="234.50" y1="492.30" x2="234.50" y2="502.30" stroke="#000" stroke-width="1.2"/>
<line x1="231.90" y1="492.30" x2="237.10" y2="492.30" stroke="#000" stroke-width="1.2"/>
<line x1="231.90" y1="502.30" x2="237.10" y2="502.30" stroke="#000" stroke-width="1.2"/>
<line x1="79.90" y1="530.30" x2="79.90" y2="540.70" stroke="#000" stroke-width="1.2"/>
<line x1="77.30" y1="530.30" x2="82.50" y2="530.30" stroke="#000" stroke-width="1.2"/>
<line x1="77.30" y1="540.70" x2="82.50" y2="540.70" stroke="#000" stroke-width="1.2"/>
<line x1="99.90" y1="520.00" x2="99.90" y2="534.00" stroke="#000" stroke-width="1.2"/>
<line x1="97.30" y1="520.00" x2="102.50" y2="520.00" stroke="#000" stroke-width="1.2"/>
<line x1="97.30" y1="534.00" x2="102.50" y2="534.00" stroke="#000" stroke-width="1.2"/>
<line x1="120.00" y1="519.00" x2="120.00" y2="531.00" stroke="#000" stroke-width="1.2"/>
<line x1="117.40" y1="519.00" x2="122.60" y2="519.00" stroke="#000" stroke-width="1.2"/>
<line x1="117.40" y1="531.00" x2="122.60" y2="531.00" stroke="#000" stroke-width="1.2"/>
<line x1="179.70" y1="483.20" x2="179.70" y2="492.30" stroke="#000" stroke-width="1.2"/>
<line x1="177.10" y1="483.20" x2="182.30" y2="483.20" stroke="#000" stroke-width="1.2"/>
<line x1="177.10" y1="492.30" x2="182.30" y2="492.30" stroke="#000" stroke-width="1.2"/>
<line x1="234.50" y1="481.50" x2="234.50" y2="487.50" stroke="#000" stroke-width="1.2"/>
<line x1="231.90" y1="481.50" x2="237.10" y2="481.50" stroke="#000" stroke-width="1.2"/>
<line x1="231.90" y1="487.50" x2="237.10" y2="487.50" stroke="#000" stroke-width="1.2"/>
<line x1="179.70" y1="514.40" x2="179.70" y2="529.90" stroke="#000" stroke-width="1.2"/>
<line x1="177.10" y1="514.40" x2="182.30" y2="514.40" stroke="#000" stroke-width="1.2"/>
<line x1="177.10" y1="529.90" x2="182.30" y2="529.90" stroke="#000" stroke-width="1.2"/>
<line x1="234.50" y1="492.30" x2="234.50" y2="502.30" stroke="#000" stroke-width="1.2"/>
<line x1="231.90" y1="492.30" x2="237.10" y2="492.30" stroke="#000" stroke-width="1.2"/>
<line x1="231.90" y1="502.30" x2="237.10" y2="502.30" stroke="#000" stroke-width="1.2"/>
<circle cx="79.90" cy="563.60" r="2.2" fill="#000" stroke="#000" stroke-width="1.1"/>
<circle cx="99.90" cy="563.60" r="2.2" fill="#000" stroke="#000" stroke-width="1.1"/>
<circle cx="120.00" cy="563.60" r="2.2" fill="#000" stroke="#000" stroke-width="1.1"/>
<circle cx="179.70" cy="563.80" r="2.2" fill="#000" stroke="#000" stroke-width="1.1"/>
<circle cx="234.50" cy="560.70" r="2.2" fill="#000" stroke="#000" stroke-width="1.1"/>
<circle cx="79.90" cy="525.60" r="2.2" fill="#ff8000" stroke="#050810" stroke-width="1.1"/>
<circle cx="99.90" cy="517.50" r="2.2" fill="#ff8000" stroke="#050810" stroke-width="1.1"/>
<circle cx="120.00" cy="516.80" r="2.2" fill="#ff8000" stroke="#050810" stroke-width="1.1"/>
<circle cx="179.70" cy="489.20" r="2.2" fill="#ff8000" stroke="#050810" stroke-width="1.1"/>
<circle cx="234.50" cy="484.20" r="2.2" fill="#ff8000" stroke="#050810" stroke-width="1.1"/>
<line x1="79.90" y1="520.60" x2="79.90" y2="530.30" stroke="#000" stroke-width="1.2"/>
<line x1="77.30" y1="520.60" x2="82.50" y2="520.60" stroke="#000" stroke-width="1.2"/>
<line x1="77.30" y1="530.30" x2="82.50" y2="530.30" stroke="#000" stroke-width="1.2"/>
<line x1="99.90" y1="510.80" x2="99.90" y2="524.00" stroke="#000" stroke-width="1.2"/>
<line x1="97.30" y1="510.80" x2="102.50" y2="510.80" stroke="#000" stroke-width="1.2"/>
<line x1="97.30" y1="524.00" x2="102.50" y2="524.00" stroke="#000" stroke-width="1.2"/>
<line x1="120.00" y1="510.50" x2="120.00" y2="523.00" stroke="#000" stroke-width="1.2"/>
<line x1="117.40" y1="510.50" x2="122.60" y2="510.50" stroke="#000" stroke-width="1.2"/>
<line x1="117.40" y1="523.00" x2="122.60" y2="523.00" stroke="#000" stroke-width="1.2"/>
<line x1="179.70" y1="485.00" x2="179.70" y2="493.00" stroke="#000" stroke-width="1.2"/>
<line x1="177.10" y1="485.00" x2="182.30" y2="485.00" stroke="#000" stroke-width="1.2"/>
<line x1="177.10" y1="493.00" x2="182.30" y2="493.00" stroke="#000" stroke-width="1.2"/>
<line x1="234.50" y1="481.00" x2="234.50" y2="487.50" stroke="#000" stroke-width="1.2"/>
<line x1="231.90" y1="481.00" x2="237.10" y2="481.00" stroke="#000" stroke-width="1.2"/>
<line x1="231.90" y1="487.50" x2="237.10" y2="487.50" stroke="#000" stroke-width="1.2"/>
<circle cx="79.90" cy="560.50" r="2.2" fill="#128aa4" stroke="#050810" stroke-width="1.1"/>
<circle cx="99.90" cy="552.00" r="2.2" fill="#128aa4" stroke="#050810" stroke-width="1.1"/>
<circle cx="120.00" cy="547.40" r="2.2" fill="#128aa4" stroke="#050810" stroke-width="1.1"/>
<circle cx="179.70" cy="505.40" r="2.2" fill="#128aa4" stroke="#050810" stroke-width="1.1"/>
<circle cx="234.50" cy="497.50" r="2.2" fill="#128aa4" stroke="#050810" stroke-width="1.1"/>
<circle cx="79.90" cy="535.60" r="2.2" fill="#fde0c0" stroke="#050810" stroke-width="1.1"/>
<circle cx="99.90" cy="526.90" r="2.2" fill="#fde0c0" stroke="#050810" stroke-width="1.1"/>
<circle cx="120.00" cy="525.20" r="2.2" fill="#fde0c0" stroke="#050810" stroke-width="1.1"/>
<circle cx="179.70" cy="487.60" r="2.2" fill="#fde0c0" stroke="#050810" stroke-width="1.1"/>
<circle cx="234.50" cy="484.50" r="2.2" fill="#fde0c0" stroke="#050810" stroke-width="1.1"/>
<circle cx="79.90" cy="563.60" r="2.2" fill="#c9ddf6" stroke="#050810" stroke-width="1.1"/>
<circle cx="99.90" cy="563.60" r="2.2" fill="#c9ddf6" stroke="#050810" stroke-width="1.1"/>
<circle cx="120.00" cy="563.60" r="2.2" fill="#c9ddf6" stroke="#050810" stroke-width="1.1"/>
<circle cx="179.70" cy="521.90" r="2.2" fill="#c9ddf6" stroke="#050810" stroke-width="1.1"/>
<circle cx="234.50" cy="497.30" r="2.2" fill="#c9ddf6" stroke="#050810" stroke-width="1.1"/>
<text x="150.00" y="593.40" font-size="8.8" text-anchor="middle"  stroke="#000" stroke-width="0.22">Days</text>
<circle cx="120.00" cy="531.00" r="2.3" fill="#666" stroke="#444" stroke-width="0.6"/>
<text x="77.70" y="466.70" font-size="7.6" text-anchor="middle" fill="#2a8aa5"  stroke="#2a8aa5" stroke-width="0.22">1.2×</text>
<text x="99.40" y="466.70" font-size="7.6" text-anchor="middle" fill="#2a8aa5"  stroke="#2a8aa5" stroke-width="0.22">2.8×</text>
<text x="120.40" y="466.70" font-size="7.6" text-anchor="middle" fill="#2a8aa5"  stroke="#2a8aa5" stroke-width="0.22">4.5×</text>
<text x="179.70" y="466.70" font-size="7.6" text-anchor="middle" fill="#2a8aa5"  stroke="#2a8aa5" stroke-width="0.22">4.5×</text>
<text x="232.00" y="466.70" font-size="7.6" text-anchor="middle" fill="#2a8aa5"  stroke="#2a8aa5" stroke-width="0.22">0.9×</text>
<text x="77.70" y="477.40" font-size="7.6" text-anchor="middle" fill="#f36f21"  stroke="#f36f21" stroke-width="0.22">2.5×</text>
<text x="99.40" y="477.40" font-size="7.6" text-anchor="middle" fill="#f36f21"  stroke="#f36f21" stroke-width="0.22">2.4×</text>
<text x="120.40" y="477.40" font-size="7.6" text-anchor="middle" fill="#f36f21"  stroke="#f36f21" stroke-width="0.22">2.1×</text>
<text x="179.70" y="477.40" font-size="7.6" text-anchor="middle" fill="#f36f21"  stroke="#f36f21" stroke-width="0.22">0.8×</text>
<text x="232.00" y="477.40" font-size="7.6" text-anchor="middle" fill="#f36f21"  stroke="#f36f21" stroke-width="0.22">1.1×</text>
<text x="240.80" y="481.80" font-size="6.8" fill="#fcc79c"  stroke="#fcc79c" stroke-width="0.22">1.4×</text>
<text x="240.80" y="488.90" font-size="6.8" fill="#f36f21"  stroke="#f36f21" stroke-width="0.22">1.9×</text>
<text x="240.80" y="497.70" font-size="6.8" fill="#a7c8f3"  stroke="#a7c8f3" stroke-width="0.22">9.7×</text>
<text x="240.80" y="505.30" font-size="6.8" fill="#2a8aa5"  stroke="#2a8aa5" stroke-width="0.22">1.9×</text>
<text x="272.80" y="446.30" font-size="11" font-weight="bold"  stroke="#000" stroke-width="0.22">e</text>
<text x="403.20" y="446.60" font-size="11" text-anchor="middle"  stroke="#000" stroke-width="0.22">Pseudovirus Neutralization</text>
<text x="291.1" y="515.5" font-size="9.8" text-anchor="middle" transform="rotate(-90 291.1 515.5)" stroke="#000" stroke-width="0.22">Log<tspan font-size="6.4" dy="2.2">10</tspan><tspan dy="-2.2">(NT</tspan><tspan font-size="6.4" dy="2.2">50</tspan><tspan dy="-2.2">)</tspan></text>
<text x="303.80" y="514.70" font-size="9.3" text-anchor="middle" transform="rotate(-90 303.80 514.70)"  stroke="#000" stroke-width="0.22">(Reciprocal serum dilution)</text>
<line x1="318.90" y1="464.30" x2="318.90" y2="566.15" stroke="#000" stroke-width="1.3"/>
<line x1="318.25" y1="565.50" x2="499.70" y2="565.50" stroke="#000" stroke-width="1.3"/>
<line x1="315.50" y1="565.50" x2="318.90" y2="565.50" stroke="#000" stroke-width="1.3"/>
<line x1="315.50" y1="548.63" x2="318.90" y2="548.63" stroke="#000" stroke-width="1.3"/>
<line x1="315.50" y1="531.76" x2="318.90" y2="531.76" stroke="#000" stroke-width="1.3"/>
<line x1="315.50" y1="514.89" x2="318.90" y2="514.89" stroke="#000" stroke-width="1.3"/>
<line x1="315.50" y1="498.02" x2="318.90" y2="498.02" stroke="#000" stroke-width="1.3"/>
<line x1="315.50" y1="481.15" x2="318.90" y2="481.15" stroke="#000" stroke-width="1.3"/>
<line x1="315.50" y1="464.28" x2="318.90" y2="464.28" stroke="#000" stroke-width="1.3"/>
<text x="314.50" y="568.74" font-size="9.0" text-anchor="end"  stroke="#000" stroke-width="0.22">1</text>
<text x="314.50" y="551.87" font-size="9.0" text-anchor="end"  stroke="#000" stroke-width="0.22">2</text>
<text x="314.50" y="535.00" font-size="9.0" text-anchor="end"  stroke="#000" stroke-width="0.22">3</text>
<text x="314.50" y="518.13" font-size="9.0" text-anchor="end"  stroke="#000" stroke-width="0.22">4</text>
<text x="314.50" y="501.26" font-size="9.0" text-anchor="end"  stroke="#000" stroke-width="0.22">5</text>
<text x="314.50" y="484.39" font-size="9.0" text-anchor="end"  stroke="#000" stroke-width="0.22">6</text>
<text x="314.50" y="467.52" font-size="9.0" text-anchor="end"  stroke="#000" stroke-width="0.22">7</text>
<line x1="339.20" y1="565.50" x2="339.20" y2="568.90" stroke="#000" stroke-width="1.3"/>
<text x="339.20" y="579.50" font-size="8.8" text-anchor="middle"  stroke="#000" stroke-width="0.22">7</text>
<line x1="359.29" y1="565.50" x2="359.29" y2="568.90" stroke="#000" stroke-width="1.3"/>
<text x="359.29" y="579.50" font-size="8.8" text-anchor="middle"  stroke="#000" stroke-width="0.22">14</text>
<line x1="379.39" y1="565.50" x2="379.39" y2="568.90" stroke="#000" stroke-width="1.3"/>
<text x="379.39" y="579.50" font-size="8.8" text-anchor="middle"  stroke="#000" stroke-width="0.22">21</text>
<line x1="399.49" y1="565.50" x2="399.49" y2="568.90" stroke="#000" stroke-width="1.3"/>
<text x="399.49" y="579.50" font-size="8.8" text-anchor="middle"  stroke="#000" stroke-width="0.22">28</text>
<line x1="419.59" y1="565.50" x2="419.59" y2="568.90" stroke="#000" stroke-width="1.3"/>
<text x="419.59" y="579.50" font-size="8.8" text-anchor="middle"  stroke="#000" stroke-width="0.22">35</text>
<line x1="439.68" y1="565.50" x2="439.68" y2="568.90" stroke="#000" stroke-width="1.3"/>
<text x="439.68" y="579.50" font-size="8.8" text-anchor="middle"  stroke="#000" stroke-width="0.22">42</text>
<line x1="459.78" y1="565.50" x2="459.78" y2="568.90" stroke="#000" stroke-width="1.3"/>
<text x="459.78" y="579.50" font-size="8.8" text-anchor="middle"  stroke="#000" stroke-width="0.22">49</text>
<line x1="479.88" y1="565.50" x2="479.88" y2="568.90" stroke="#000" stroke-width="1.3"/>
<text x="479.88" y="579.50" font-size="8.8" text-anchor="middle"  stroke="#000" stroke-width="0.22">56</text>
<line x1="499.97" y1="565.50" x2="499.97" y2="568.90" stroke="#000" stroke-width="1.3"/>
<text x="499.97" y="579.50" font-size="8.8" text-anchor="middle"  stroke="#000" stroke-width="0.22">63</text>
<polyline points="339.20,560.90 359.10,560.90 379.20,560.90 439.00,543.00 493.50,543.00" fill="none" stroke="#000" stroke-width="1.25"/>
<polyline points="339.20,544.70 359.10,528.40 379.20,522.30 439.00,490.50 493.50,483.20" fill="none" stroke="#000" stroke-width="1.25"/>
<polyline points="339.20,557.50 359.10,554.80 379.20,550.30 439.00,503.30 493.50,492.00" fill="none" stroke="#000" stroke-width="1.25"/>
<polyline points="339.20,553.50 359.10,538.20 379.20,529.10 439.00,490.80 493.50,483.50" fill="none" stroke="#000" stroke-width="1.25"/>
<polyline points="339.20,560.90 359.10,560.90 379.20,560.90 439.00,526.90 493.50,491.60" fill="none" stroke="#000" stroke-width="1.25"/>
<line x1="339.20" y1="555.00" x2="339.20" y2="560.00" stroke="#000" stroke-width="1.2"/>
<line x1="336.60" y1="555.00" x2="341.80" y2="555.00" stroke="#000" stroke-width="1.2"/>
<line x1="336.60" y1="560.00" x2="341.80" y2="560.00" stroke="#000" stroke-width="1.2"/>
<line x1="359.10" y1="548.80" x2="359.10" y2="561.00" stroke="#000" stroke-width="1.2"/>
<line x1="356.50" y1="548.80" x2="361.70" y2="548.80" stroke="#000" stroke-width="1.2"/>
<line x1="356.50" y1="561.00" x2="361.70" y2="561.00" stroke="#000" stroke-width="1.2"/>
<line x1="379.20" y1="540.20" x2="379.20" y2="560.40" stroke="#000" stroke-width="1.2"/>
<line x1="376.60" y1="540.20" x2="381.80" y2="540.20" stroke="#000" stroke-width="1.2"/>
<line x1="376.60" y1="560.40" x2="381.80" y2="560.40" stroke="#000" stroke-width="1.2"/>
<line x1="439.00" y1="496.30" x2="439.00" y2="509.40" stroke="#000" stroke-width="1.2"/>
<line x1="436.40" y1="496.30" x2="441.60" y2="496.30" stroke="#000" stroke-width="1.2"/>
<line x1="436.40" y1="509.40" x2="441.60" y2="509.40" stroke="#000" stroke-width="1.2"/>
<line x1="493.50" y1="488.20" x2="493.50" y2="499.30" stroke="#000" stroke-width="1.2"/>
<line x1="490.90" y1="488.20" x2="496.10" y2="488.20" stroke="#000" stroke-width="1.2"/>
<line x1="490.90" y1="499.30" x2="496.10" y2="499.30" stroke="#000" stroke-width="1.2"/>
<line x1="339.20" y1="549.00" x2="339.20" y2="558.00" stroke="#000" stroke-width="1.2"/>
<line x1="336.60" y1="549.00" x2="341.80" y2="549.00" stroke="#000" stroke-width="1.2"/>
<line x1="336.60" y1="558.00" x2="341.80" y2="558.00" stroke="#000" stroke-width="1.2"/>
<line x1="359.10" y1="531.00" x2="359.10" y2="547.30" stroke="#000" stroke-width="1.2"/>
<line x1="356.50" y1="531.00" x2="361.70" y2="531.00" stroke="#000" stroke-width="1.2"/>
<line x1="356.50" y1="547.30" x2="361.70" y2="547.30" stroke="#000" stroke-width="1.2"/>
<line x1="379.20" y1="523.00" x2="379.20" y2="535.20" stroke="#000" stroke-width="1.2"/>
<line x1="376.60" y1="523.00" x2="381.80" y2="523.00" stroke="#000" stroke-width="1.2"/>
<line x1="376.60" y1="535.20" x2="381.80" y2="535.20" stroke="#000" stroke-width="1.2"/>
<line x1="439.00" y1="487.20" x2="439.00" y2="494.30" stroke="#000" stroke-width="1.2"/>
<line x1="436.40" y1="487.20" x2="441.60" y2="487.20" stroke="#000" stroke-width="1.2"/>
<line x1="436.40" y1="494.30" x2="441.60" y2="494.30" stroke="#000" stroke-width="1.2"/>
<line x1="493.50" y1="480.50" x2="493.50" y2="486.50" stroke="#000" stroke-width="1.2"/>
<line x1="490.90" y1="480.50" x2="496.10" y2="480.50" stroke="#000" stroke-width="1.2"/>
<line x1="490.90" y1="486.50" x2="496.10" y2="486.50" stroke="#000" stroke-width="1.2"/>
<line x1="439.00" y1="520.40" x2="439.00" y2="533.50" stroke="#000" stroke-width="1.2"/>
<line x1="436.40" y1="520.40" x2="441.60" y2="520.40" stroke="#000" stroke-width="1.2"/>
<line x1="436.40" y1="533.50" x2="441.60" y2="533.50" stroke="#000" stroke-width="1.2"/>
<line x1="493.50" y1="488.20" x2="493.50" y2="499.80" stroke="#000" stroke-width="1.2"/>
<line x1="490.90" y1="488.20" x2="496.10" y2="488.20" stroke="#000" stroke-width="1.2"/>
<line x1="490.90" y1="499.80" x2="496.10" y2="499.80" stroke="#000" stroke-width="1.2"/>
<circle cx="339.20" cy="560.90" r="2.2" fill="#000" stroke="#000" stroke-width="1.1"/>
<circle cx="359.10" cy="560.90" r="2.2" fill="#000" stroke="#000" stroke-width="1.1"/>
<circle cx="379.20" cy="560.90" r="2.2" fill="#000" stroke="#000" stroke-width="1.1"/>
<circle cx="439.00" cy="543.00" r="2.2" fill="#000" stroke="#000" stroke-width="1.1"/>
<circle cx="493.50" cy="543.00" r="2.2" fill="#000" stroke="#000" stroke-width="1.1"/>
<circle cx="339.20" cy="544.70" r="2.2" fill="#ff8000" stroke="#050810" stroke-width="1.1"/>
<circle cx="359.10" cy="528.40" r="2.2" fill="#ff8000" stroke="#050810" stroke-width="1.1"/>
<circle cx="379.20" cy="522.30" r="2.2" fill="#ff8000" stroke="#050810" stroke-width="1.1"/>
<circle cx="439.00" cy="490.50" r="2.2" fill="#ff8000" stroke="#050810" stroke-width="1.1"/>
<circle cx="493.50" cy="483.20" r="2.2" fill="#ff8000" stroke="#050810" stroke-width="1.1"/>
<line x1="339.20" y1="537.20" x2="339.20" y2="552.00" stroke="#000" stroke-width="1.2"/>
<line x1="336.60" y1="537.20" x2="341.80" y2="537.20" stroke="#000" stroke-width="1.2"/>
<line x1="336.60" y1="552.00" x2="341.80" y2="552.00" stroke="#000" stroke-width="1.2"/>
<line x1="359.10" y1="522.60" x2="359.10" y2="534.20" stroke="#000" stroke-width="1.2"/>
<line x1="356.50" y1="522.60" x2="361.70" y2="522.60" stroke="#000" stroke-width="1.2"/>
<line x1="356.50" y1="534.20" x2="361.70" y2="534.20" stroke="#000" stroke-width="1.2"/>
<line x1="379.20" y1="516.50" x2="379.20" y2="528.00" stroke="#000" stroke-width="1.2"/>
<line x1="376.60" y1="516.50" x2="381.80" y2="516.50" stroke="#000" stroke-width="1.2"/>
<line x1="376.60" y1="528.00" x2="381.80" y2="528.00" stroke="#000" stroke-width="1.2"/>
<line x1="439.00" y1="487.00" x2="439.00" y2="494.00" stroke="#000" stroke-width="1.2"/>
<line x1="436.40" y1="487.00" x2="441.60" y2="487.00" stroke="#000" stroke-width="1.2"/>
<line x1="436.40" y1="494.00" x2="441.60" y2="494.00" stroke="#000" stroke-width="1.2"/>
<line x1="493.50" y1="480.50" x2="493.50" y2="486.00" stroke="#000" stroke-width="1.2"/>
<line x1="490.90" y1="480.50" x2="496.10" y2="480.50" stroke="#000" stroke-width="1.2"/>
<line x1="490.90" y1="486.00" x2="496.10" y2="486.00" stroke="#000" stroke-width="1.2"/>
<circle cx="339.20" cy="557.50" r="2.2" fill="#128aa4" stroke="#050810" stroke-width="1.1"/>
<circle cx="359.10" cy="554.80" r="2.2" fill="#128aa4" stroke="#050810" stroke-width="1.1"/>
<circle cx="379.20" cy="550.30" r="2.2" fill="#128aa4" stroke="#050810" stroke-width="1.1"/>
<circle cx="439.00" cy="503.30" r="2.2" fill="#128aa4" stroke="#050810" stroke-width="1.1"/>
<circle cx="493.50" cy="492.00" r="2.2" fill="#128aa4" stroke="#050810" stroke-width="1.1"/>
<circle cx="339.20" cy="553.50" r="2.2" fill="#fde0c0" stroke="#050810" stroke-width="1.1"/>
<circle cx="359.10" cy="538.20" r="2.2" fill="#fde0c0" stroke="#050810" stroke-width="1.1"/>
<circle cx="379.20" cy="529.10" r="2.2" fill="#fde0c0" stroke="#050810" stroke-width="1.1"/>
<circle cx="439.00" cy="490.80" r="2.2" fill="#fde0c0" stroke="#050810" stroke-width="1.1"/>
<circle cx="493.50" cy="483.50" r="2.2" fill="#fde0c0" stroke="#050810" stroke-width="1.1"/>
<circle cx="339.20" cy="560.90" r="2.2" fill="#c9ddf6" stroke="#050810" stroke-width="1.1"/>
<circle cx="359.10" cy="560.90" r="2.2" fill="#c9ddf6" stroke="#050810" stroke-width="1.1"/>
<circle cx="379.20" cy="560.90" r="2.2" fill="#c9ddf6" stroke="#050810" stroke-width="1.1"/>
<circle cx="439.00" cy="526.90" r="2.2" fill="#c9ddf6" stroke="#050810" stroke-width="1.1"/>
<circle cx="493.50" cy="491.60" r="2.2" fill="#c9ddf6" stroke="#050810" stroke-width="1.1"/>
<text x="409.20" y="593.40" font-size="8.8" text-anchor="middle"  stroke="#000" stroke-width="0.22">Days</text>
<text x="336.50" y="466.60" font-size="7.6" text-anchor="middle" fill="#2a8aa5"  stroke="#2a8aa5" stroke-width="0.22">1.2×</text>
<text x="358.30" y="466.60" font-size="7.6" text-anchor="middle" fill="#2a8aa5"  stroke="#2a8aa5" stroke-width="0.22">2.3×</text>
<text x="380.30" y="466.60" font-size="7.6" text-anchor="middle" fill="#2a8aa5"  stroke="#2a8aa5" stroke-width="0.22">4.3×</text>
<text x="438.90" y="466.60" font-size="7.6" text-anchor="middle" fill="#2a8aa5"  stroke="#2a8aa5" stroke-width="0.22">26.2×</text>
<text x="491.00" y="466.60" font-size="7.6" text-anchor="middle" fill="#2a8aa5"  stroke="#2a8aa5" stroke-width="0.22">0.9×</text>
<text x="336.50" y="476.30" font-size="7.6" text-anchor="middle" fill="#f36f21"  stroke="#f36f21" stroke-width="0.22">3.3×</text>
<text x="358.30" y="476.30" font-size="7.6" text-anchor="middle" fill="#f36f21"  stroke="#f36f21" stroke-width="0.22">4.0×</text>
<text x="380.30" y="476.30" font-size="7.6" text-anchor="middle" fill="#f36f21"  stroke="#f36f21" stroke-width="0.22">2.5×</text>
<text x="438.30" y="476.30" font-size="7.6" text-anchor="middle" fill="#f36f21"  stroke="#f36f21" stroke-width="0.22">0.8×</text>
<text x="491.00" y="476.30" font-size="7.6" text-anchor="middle" fill="#f36f21"  stroke="#f36f21" stroke-width="0.22">0.9×</text>
<text x="501.90" y="479.40" font-size="6.8" fill="#fcc79c"  stroke="#fcc79c" stroke-width="0.22">2.9×</text>
<text x="501.90" y="485.80" font-size="6.8" fill="#f36f21"  stroke="#f36f21" stroke-width="0.22">3.0×</text>
<text x="502.40" y="495.50" font-size="6.8" fill="#a7c8f3"  stroke="#a7c8f3" stroke-width="0.22">135.6×</text>
<text x="501.90" y="502.50" font-size="6.8" fill="#2a8aa5"  stroke="#2a8aa5" stroke-width="0.22">4.8×</text>
<text x="527.10" y="446.20" font-size="11" font-weight="bold"  stroke="#000" stroke-width="0.22">f</text>
<text x="540.10" y="446.20" font-size="11" textLength="141.4" lengthAdjust="spacingAndGlyphs"  stroke="#000" stroke-width="0.22">Authentic virus Neutralization</text>
<line x1="571.00" y1="461.80" x2="571.00" y2="562.95" stroke="#000" stroke-width="1.3"/>
<line x1="570.35" y1="562.30" x2="676.20" y2="562.30" stroke="#000" stroke-width="1.3"/>
<line x1="567.60" y1="562.30" x2="571.00" y2="562.30" stroke="#000" stroke-width="1.3"/>
<line x1="567.60" y1="542.20" x2="571.00" y2="542.20" stroke="#000" stroke-width="1.3"/>
<line x1="567.60" y1="522.10" x2="571.00" y2="522.10" stroke="#000" stroke-width="1.3"/>
<line x1="567.60" y1="502.00" x2="571.00" y2="502.00" stroke="#000" stroke-width="1.3"/>
<line x1="567.60" y1="481.90" x2="571.00" y2="481.90" stroke="#000" stroke-width="1.3"/>
<line x1="567.60" y1="461.80" x2="571.00" y2="461.80" stroke="#000" stroke-width="1.3"/>
<line x1="567.60" y1="550.20" x2="571.00" y2="550.20" stroke="#000" stroke-width="1.3"/>
<text x="566.60" y="565.54" font-size="9.0" text-anchor="end"  stroke="#000" stroke-width="0.22">1</text>
<text x="566.60" y="545.44" font-size="9.0" text-anchor="end"  stroke="#000" stroke-width="0.22">2</text>
<text x="566.60" y="525.34" font-size="9.0" text-anchor="end"  stroke="#000" stroke-width="0.22">3</text>
<text x="566.60" y="505.24" font-size="9.0" text-anchor="end"  stroke="#000" stroke-width="0.22">4</text>
<text x="566.60" y="485.14" font-size="9.0" text-anchor="end"  stroke="#000" stroke-width="0.22">5</text>
<text x="566.60" y="465.04" font-size="9.0" text-anchor="end"  stroke="#000" stroke-width="0.22">6</text>
<line x1="585.00" y1="562.30" x2="585.00" y2="565.70" stroke="#000" stroke-width="1.3"/>
<text x="585.00" y="575.80" font-size="8.8" text-anchor="middle"  stroke="#000" stroke-width="0.22">1</text>
<line x1="606.20" y1="562.30" x2="606.20" y2="565.70" stroke="#000" stroke-width="1.3"/>
<text x="606.20" y="575.80" font-size="8.8" text-anchor="middle"  stroke="#000" stroke-width="0.22">10</text>
<line x1="626.90" y1="562.30" x2="626.90" y2="565.70" stroke="#000" stroke-width="1.3"/>
<text x="626.90" y="575.80" font-size="8.8" text-anchor="middle"  stroke="#000" stroke-width="0.22">1</text>
<line x1="648.20" y1="562.30" x2="648.20" y2="565.70" stroke="#000" stroke-width="1.3"/>
<text x="648.20" y="575.80" font-size="8.8" text-anchor="middle"  stroke="#000" stroke-width="0.22">10</text>
<line x1="669.30" y1="562.30" x2="669.30" y2="565.70" stroke="#000" stroke-width="1.3"/>
<text x="669.30" y="575.80" font-size="8.8" text-anchor="middle"  stroke="#000" stroke-width="0.22">10</text>
<text x="628.20" y="592.60" font-size="9.4" text-anchor="middle" textLength="91.8" lengthAdjust="spacingAndGlyphs"  stroke="#000" stroke-width="0.22">Immunizing dose (μg)</text>
<line x1="572.00" y1="550.20" x2="682.50" y2="550.20" stroke="#000" stroke-width="1.3" stroke-dasharray="1.3 2.15"/>
<text x="544.2" y="511.5" font-size="9.8" text-anchor="middle" transform="rotate(-90 544.2 511.5)" stroke="#000" stroke-width="0.22">Log(NT<tspan font-size="6.4" dy="2.2">50</tspan><tspan dy="-2.2">)</tspan></text>
<text x="557.30" y="509.50" font-size="9.0" text-anchor="middle" transform="rotate(-90 557.30 509.50)"  stroke="#000" stroke-width="0.22">(Reciprocal serum dilution)</text>
<circle cx="585.10" cy="502.50" r="2.45" fill="#c9ddf6" stroke="#050810" stroke-width="1.0"/>
<circle cx="581.60" cy="522.70" r="2.45" fill="#c9ddf6" stroke="#050810" stroke-width="1.0"/>
<circle cx="588.70" cy="525.60" r="2.45" fill="#c9ddf6" stroke="#050810" stroke-width="1.0"/>
<circle cx="581.60" cy="530.90" r="2.45" fill="#c9ddf6" stroke="#050810" stroke-width="1.0"/>
<circle cx="588.70" cy="534.10" r="2.45" fill="#c9ddf6" stroke="#050810" stroke-width="1.0"/>
<circle cx="585.10" cy="543.70" r="2.45" fill="#c9ddf6" stroke="#050810" stroke-width="1.0"/>
<line x1="585.00" y1="512.70" x2="585.00" y2="540.70" stroke="#222" stroke-width="1.3"/>
<line x1="582.40" y1="512.70" x2="587.60" y2="512.70" stroke="#222" stroke-width="1.3"/>
<line x1="582.40" y1="540.70" x2="587.60" y2="540.70" stroke="#222" stroke-width="1.3"/>
<line x1="579.40" y1="526.50" x2="590.60" y2="526.50" stroke="#222" stroke-width="1.4"/>
<text x="585.00" y="498.70" font-size="7.0" text-anchor="middle" fill="#222"  stroke="#222" stroke-width="0.22">599</text>
<circle cx="606.20" cy="501.10" r="2.45" fill="#128aa4" stroke="#050810" stroke-width="1.0"/>
<circle cx="602.10" cy="515.70" r="2.45" fill="#128aa4" stroke="#050810" stroke-width="1.0"/>
<circle cx="607.00" cy="521.80" r="2.45" fill="#128aa4" stroke="#050810" stroke-width="1.0"/>
<circle cx="609.70" cy="523.20" r="2.45" fill="#128aa4" stroke="#050810" stroke-width="1.0"/>
<circle cx="604.50" cy="519.50" r="2.45" fill="#128aa4" stroke="#050810" stroke-width="1.0"/>
<circle cx="608.00" cy="522.50" r="2.45" fill="#128aa4" stroke="#050810" stroke-width="1.0"/>
<line x1="606.20" y1="508.30" x2="606.20" y2="525.60" stroke="#222" stroke-width="1.3"/>
<line x1="603.60" y1="508.30" x2="608.80" y2="508.30" stroke="#222" stroke-width="1.3"/>
<line x1="603.60" y1="525.60" x2="608.80" y2="525.60" stroke="#222" stroke-width="1.3"/>
<line x1="600.60" y1="516.90" x2="611.80" y2="516.90" stroke="#222" stroke-width="1.4"/>
<text x="606.20" y="497.30" font-size="7.0" text-anchor="middle" fill="#222"  stroke="#222" stroke-width="0.22">1857</text>
<circle cx="623.70" cy="503.00" r="2.45" fill="#fde0c0" stroke="#050810" stroke-width="1.0"/>
<circle cx="627.20" cy="502.50" r="2.45" fill="#fde0c0" stroke="#050810" stroke-width="1.0"/>
<circle cx="630.70" cy="502.50" r="2.45" fill="#fde0c0" stroke="#050810" stroke-width="1.0"/>
<circle cx="628.40" cy="506.00" r="2.45" fill="#fde0c0" stroke="#050810" stroke-width="1.0"/>
<circle cx="625.40" cy="522.70" r="2.45" fill="#fde0c0" stroke="#050810" stroke-width="1.0"/>
<circle cx="628.90" cy="522.70" r="2.45" fill="#fde0c0" stroke="#050810" stroke-width="1.0"/>
<line x1="626.90" y1="502.50" x2="626.90" y2="522.70" stroke="#222" stroke-width="1.3"/>
<line x1="624.30" y1="502.50" x2="629.50" y2="502.50" stroke="#222" stroke-width="1.3"/>
<line x1="624.30" y1="522.70" x2="629.50" y2="522.70" stroke="#222" stroke-width="1.3"/>
<line x1="621.30" y1="510.40" x2="632.50" y2="510.40" stroke="#222" stroke-width="1.4"/>
<text x="626.90" y="495.20" font-size="7.0" text-anchor="middle" fill="#222"  stroke="#222" stroke-width="0.22">3807</text>
<circle cx="648.20" cy="499.90" r="2.45" fill="#ff8000" stroke="#050810" stroke-width="1.0"/>
<circle cx="644.70" cy="511.80" r="2.45" fill="#ff8000" stroke="#050810" stroke-width="1.0"/>
<circle cx="651.70" cy="511.80" r="2.45" fill="#ff8000" stroke="#050810" stroke-width="1.0"/>
<circle cx="644.70" cy="516.50" r="2.45" fill="#ff8000" stroke="#050810" stroke-width="1.0"/>
<circle cx="651.20" cy="523.20" r="2.45" fill="#ff8000" stroke="#050810" stroke-width="1.0"/>
<circle cx="648.20" cy="514.00" r="2.45" fill="#ff8000" stroke="#050810" stroke-width="1.0"/>
<line x1="648.20" y1="503.90" x2="648.20" y2="520.90" stroke="#222" stroke-width="1.3"/>
<line x1="645.60" y1="503.90" x2="650.80" y2="503.90" stroke="#222" stroke-width="1.3"/>
<line x1="645.60" y1="520.90" x2="650.80" y2="520.90" stroke="#222" stroke-width="1.3"/>
<line x1="642.60" y1="512.20" x2="653.80" y2="512.20" stroke="#222" stroke-width="1.4"/>
<text x="648.20" y="495.20" font-size="7.0" text-anchor="middle" fill="#222"  stroke="#222" stroke-width="0.22">2917</text>
<rect x="663.00" y="553.70" width="12.6" height="5.8" rx="2.9" fill="#000"/>
<text x="669.30" y="551.90" font-size="7.0" text-anchor="middle" fill="#222"  stroke="#222" stroke-width="0.22">20</text>
<line x1="605.80" y1="464.20" x2="648.80" y2="464.20" stroke="#000" stroke-width="1.2"/>
<text x="628.10" y="461.60" font-size="9.4" text-anchor="middle" stroke="#000" stroke-width="0.22">ns <tspan font-style="normal">p</tspan>=0.9413</text>
<line x1="581.00" y1="480.70" x2="630.10" y2="480.70" stroke="#000" stroke-width="1.2"/>
<text x="607.60" y="477.60" font-size="9.4" text-anchor="middle" stroke="#000" stroke-width="0.22">ns <tspan font-style="normal">p</tspan>=0.3921</text>
</svg>
</body></html>
